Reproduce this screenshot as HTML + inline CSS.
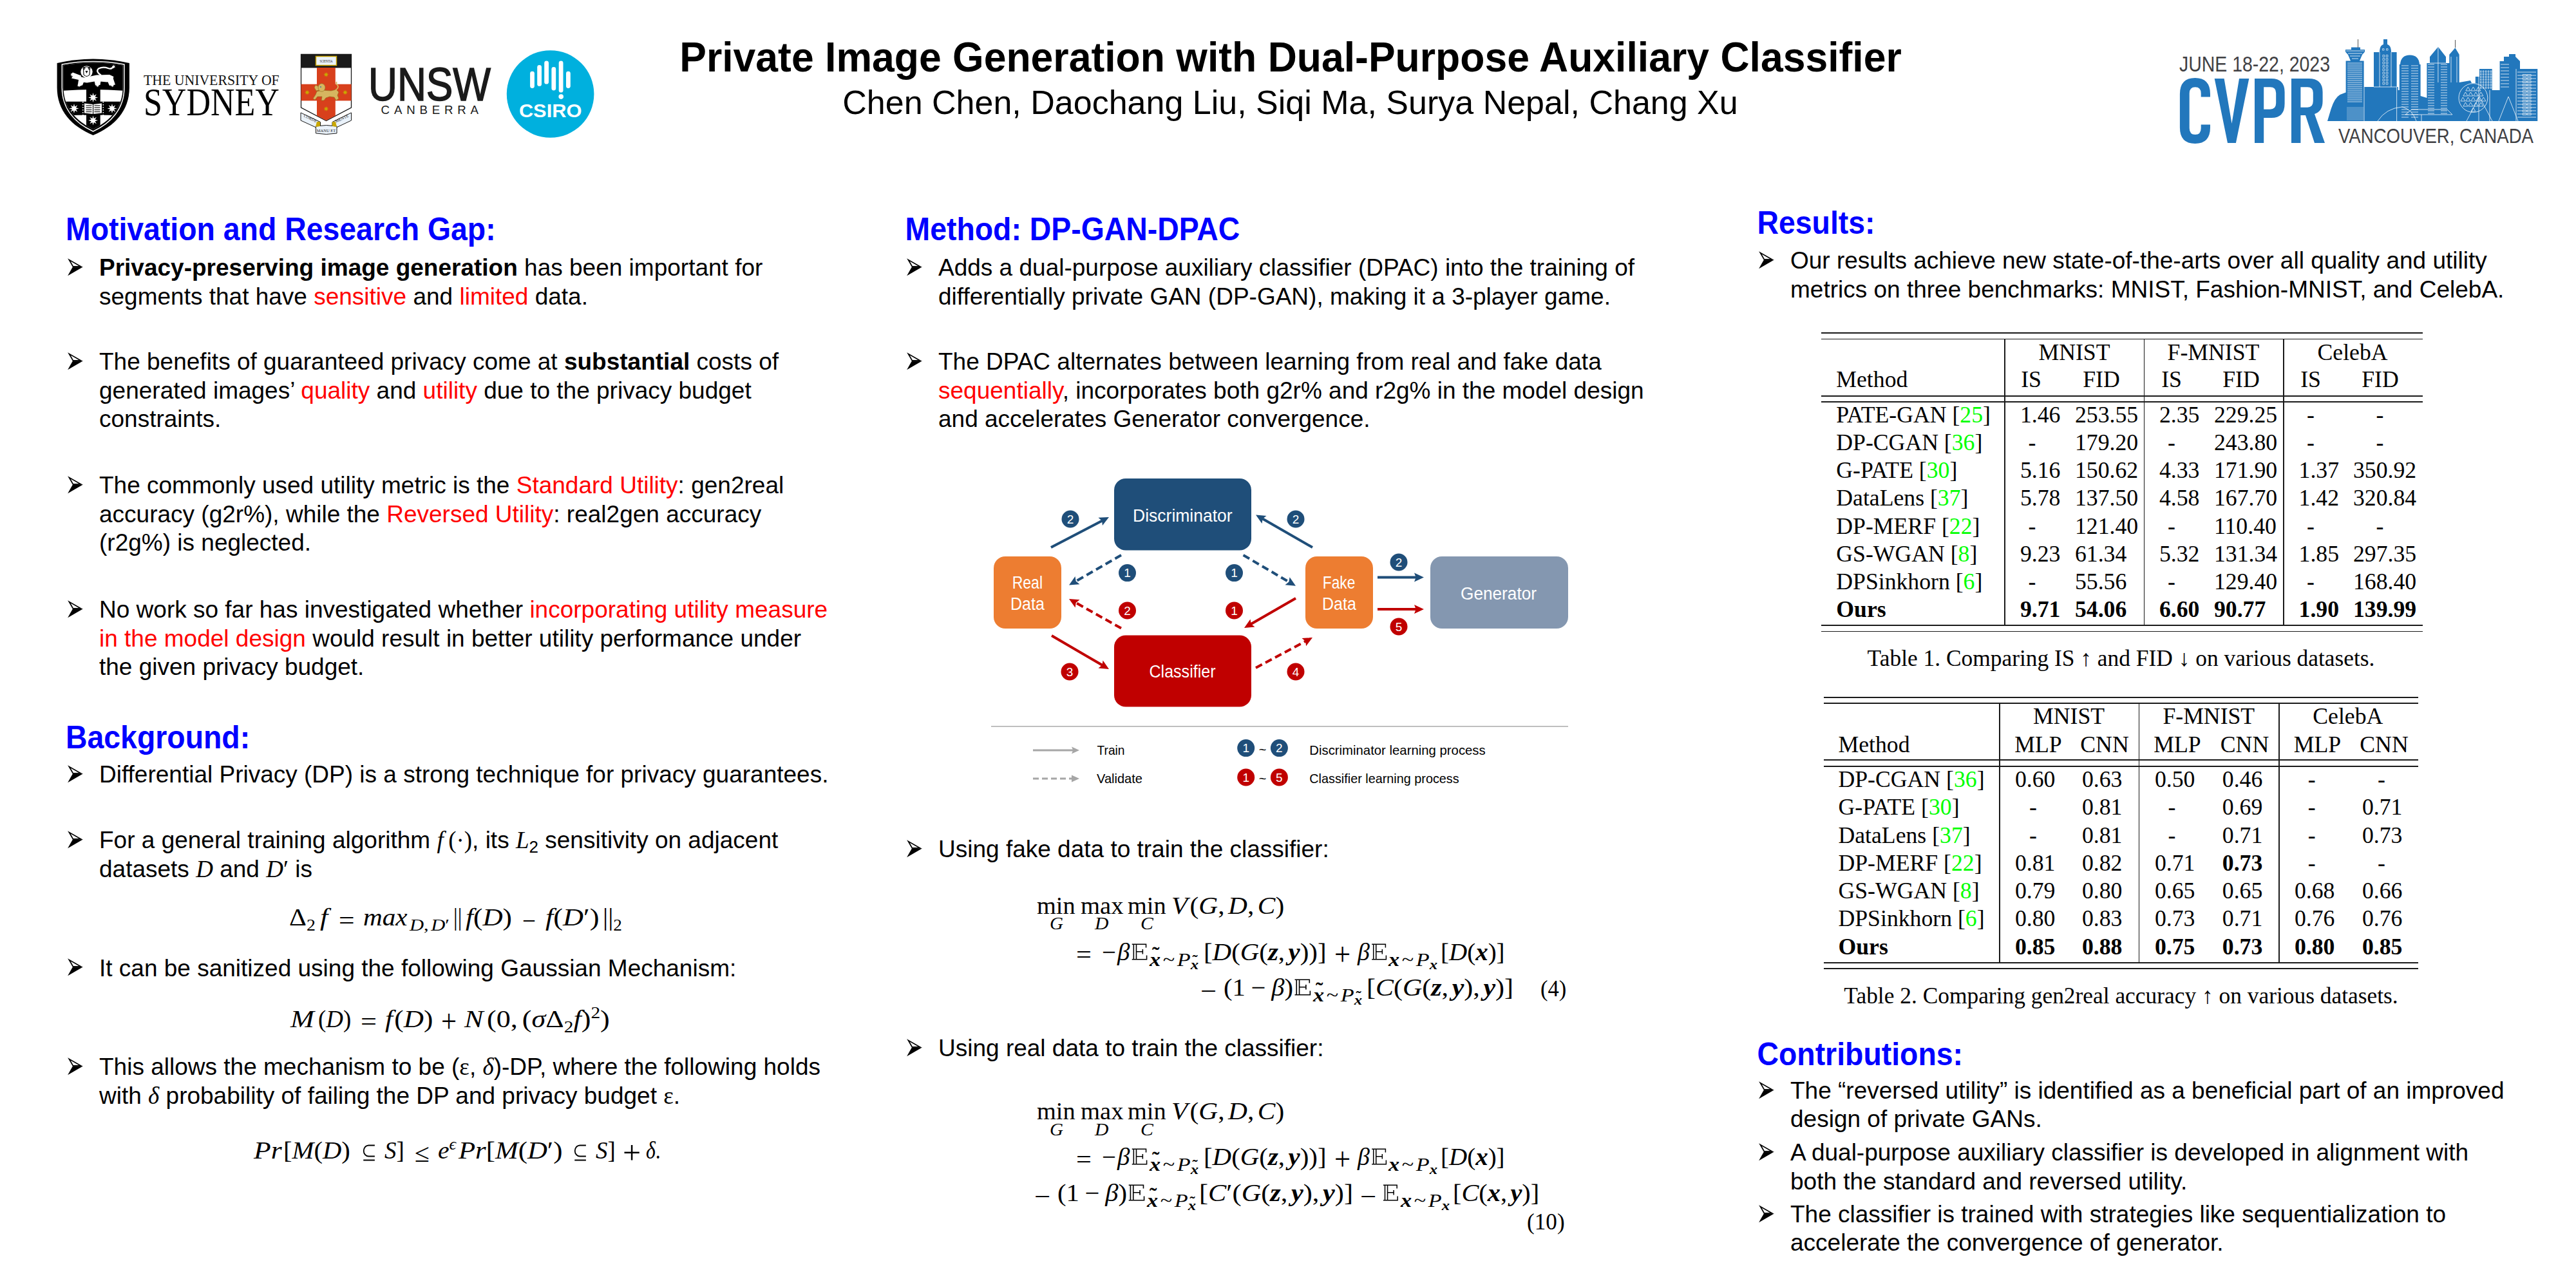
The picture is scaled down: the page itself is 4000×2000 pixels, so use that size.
<!DOCTYPE html>
<html><head><meta charset="utf-8">
<style>
html,body{margin:0;padding:0;background:#fff;}
body{width:4000px;height:2000px;position:relative;overflow:hidden;font-family:"Liberation Sans",sans-serif;color:#000;}
.t{position:absolute;white-space:nowrap;font-family:"Liberation Sans",sans-serif;color:#000;}
.t span,.t b{line-height:0;}
.h{position:absolute;white-space:nowrap;font-family:"Liberation Sans",sans-serif;font-weight:bold;color:#0000ff;}
.r{color:#ff0000;}
.mi{font-family:"Liberation Serif",serif;font-style:italic;}
.mr{font-family:"Liberation Serif",serif;}
.tb{position:absolute;white-space:nowrap;font-family:"Liberation Serif",serif;color:#000;font-size:35.7px;line-height:35.7px;}
.g{color:#00ff00;}
.hl{position:absolute;background:#1a1a1a;height:1.7px;}
.vl{position:absolute;background:#1a1a1a;width:1.7px;}
svg text{font-family:"Liberation Sans",sans-serif;}
</style></head><body>

<div class="t" style="left:0;width:4008px;text-align:center;top:58.09px;font-size:62.5px;line-height:62.5px;font-weight:bold;transform:scaleY(1.05);transform-origin:0 52.91px">Private Image Generation with Dual-Purpose Auxiliary Classifier</div>
<div class="t" style="left:0;width:4007px;text-align:center;top:132.98px;font-size:52px;line-height:52px">Chen Chen, Daochang Liu, Siqi Ma, Surya Nepal, Chang Xu</div>
<div class="h" style="left:102px;top:334.32px;font-size:46.4px;line-height:46.4px;transform:scaleY(1.06);transform-origin:0 39.28px">Motivation and Research Gap:</div>
<div style="position:absolute;left:104px;top:400.90px;width:26px;height:29px"><svg width="26" height="29" viewBox="-1 -1 26 29" style="display:block"><path d="M0.1,-0.7 L23.8,12.7 L7.9,12.7 Z M4.73,3.87 L17.34,11.00 L8.88,11.00 Z" fill="#000" fill-rule="evenodd"/><path d="M7.9,12.6 L23.8,12.6 L0.1,26.2 Z" fill="#000"/></svg></div>
<div class="t" style="left:154px;top:394.18px;font-size:37px;line-height:44.4px;"><b>Privacy-preserving image generation</b> has been important for</div>
<div class="t" style="left:154px;top:438.58px;font-size:37px;line-height:44.4px;">segments that have <span class="r">sensitive</span> and <span class="r">limited</span> data.</div>
<div style="position:absolute;left:104px;top:546.90px;width:26px;height:29px"><svg width="26" height="29" viewBox="-1 -1 26 29" style="display:block"><path d="M0.1,-0.7 L23.8,12.7 L7.9,12.7 Z M4.73,3.87 L17.34,11.00 L8.88,11.00 Z" fill="#000" fill-rule="evenodd"/><path d="M7.9,12.6 L23.8,12.6 L0.1,26.2 Z" fill="#000"/></svg></div>
<div class="t" style="left:154px;top:540.18px;font-size:37px;line-height:44.4px;">The benefits of guaranteed privacy come at <b>substantial</b> costs of</div>
<div class="t" style="left:154px;top:584.58px;font-size:37px;line-height:44.4px;">generated images’ <span class="r">quality</span> and <span class="r">utility</span> due to the privacy budget</div>
<div class="t" style="left:154px;top:628.98px;font-size:37px;line-height:44.4px;">constraints.</div>
<div style="position:absolute;left:104px;top:739.20px;width:26px;height:29px"><svg width="26" height="29" viewBox="-1 -1 26 29" style="display:block"><path d="M0.1,-0.7 L23.8,12.7 L7.9,12.7 Z M4.73,3.87 L17.34,11.00 L8.88,11.00 Z" fill="#000" fill-rule="evenodd"/><path d="M7.9,12.6 L23.8,12.6 L0.1,26.2 Z" fill="#000"/></svg></div>
<div class="t" style="left:154px;top:732.48px;font-size:37px;line-height:44.4px;">The commonly used utility metric is the <span class="r">Standard Utility</span>: gen2real</div>
<div class="t" style="left:154px;top:776.88px;font-size:37px;line-height:44.4px;">accuracy (g2r%), while the <span class="r">Reversed Utility</span>: real2gen accuracy</div>
<div class="t" style="left:154px;top:821.28px;font-size:37px;line-height:44.4px;">(r2g%) is neglected.</div>
<div style="position:absolute;left:104px;top:931.90px;width:26px;height:29px"><svg width="26" height="29" viewBox="-1 -1 26 29" style="display:block"><path d="M0.1,-0.7 L23.8,12.7 L7.9,12.7 Z M4.73,3.87 L17.34,11.00 L8.88,11.00 Z" fill="#000" fill-rule="evenodd"/><path d="M7.9,12.6 L23.8,12.6 L0.1,26.2 Z" fill="#000"/></svg></div>
<div class="t" style="left:154px;top:925.18px;font-size:37px;line-height:44.4px;">No work so far has investigated whether <span class="r">incorporating utility measure</span></div>
<div class="t" style="left:154px;top:969.58px;font-size:37px;line-height:44.4px;"><span class="r">in the model design</span> would result in better utility performance under</div>
<div class="t" style="left:154px;top:1013.98px;font-size:37px;line-height:44.4px;">the given privacy budget.</div>
<div class="h" style="left:102px;top:1122.72px;font-size:46.4px;line-height:46.4px;transform:scaleY(1.06);transform-origin:0 39.28px">Background:</div>
<div style="position:absolute;left:104px;top:1187.90px;width:26px;height:29px"><svg width="26" height="29" viewBox="-1 -1 26 29" style="display:block"><path d="M0.1,-0.7 L23.8,12.7 L7.9,12.7 Z M4.73,3.87 L17.34,11.00 L8.88,11.00 Z" fill="#000" fill-rule="evenodd"/><path d="M7.9,12.6 L23.8,12.6 L0.1,26.2 Z" fill="#000"/></svg></div>
<div class="t" style="left:154px;top:1181.18px;font-size:37px;line-height:44.4px;">Differential Privacy (DP) is a strong technique for privacy guarantees.</div>
<div style="position:absolute;left:104px;top:1289.90px;width:26px;height:29px"><svg width="26" height="29" viewBox="-1 -1 26 29" style="display:block"><path d="M0.1,-0.7 L23.8,12.7 L7.9,12.7 Z M4.73,3.87 L17.34,11.00 L8.88,11.00 Z" fill="#000" fill-rule="evenodd"/><path d="M7.9,12.6 L23.8,12.6 L0.1,26.2 Z" fill="#000"/></svg></div>
<div class="t" style="left:154px;top:1283.18px;font-size:37px;line-height:44.4px;">For a general training algorithm <span class="mi">f&#8201;</span><span class="mr">(·)</span>, its <span class="mi">L</span><span style="font-size:26px;position:relative;top:7px">2</span> sensitivity on adjacent</div>
<div class="t" style="left:154px;top:1327.58px;font-size:37px;line-height:44.4px;">datasets <span class="mi">D</span> and <span class="mi">D</span><span class="mr">′</span> is</div>
<div style="position:absolute;left:104px;top:1488.40px;width:26px;height:29px"><svg width="26" height="29" viewBox="-1 -1 26 29" style="display:block"><path d="M0.1,-0.7 L23.8,12.7 L7.9,12.7 Z M4.73,3.87 L17.34,11.00 L8.88,11.00 Z" fill="#000" fill-rule="evenodd"/><path d="M7.9,12.6 L23.8,12.6 L0.1,26.2 Z" fill="#000"/></svg></div>
<div class="t" style="left:154px;top:1481.68px;font-size:37px;line-height:44.4px;">It can be sanitized using the following Gaussian Mechanism:</div>
<div style="position:absolute;left:104px;top:1641.90px;width:26px;height:29px"><svg width="26" height="29" viewBox="-1 -1 26 29" style="display:block"><path d="M0.1,-0.7 L23.8,12.7 L7.9,12.7 Z M4.73,3.87 L17.34,11.00 L8.88,11.00 Z" fill="#000" fill-rule="evenodd"/><path d="M7.9,12.6 L23.8,12.6 L0.1,26.2 Z" fill="#000"/></svg></div>
<div class="t" style="left:154px;top:1635.18px;font-size:37px;line-height:44.4px;">This allows the mechanism to be (<span class="mr">ε</span>, <span class="mi">δ</span>)-DP, where the following holds</div>
<div class="t" style="left:154px;top:1679.58px;font-size:37px;line-height:44.4px;">with <span class="mi">δ</span> probability of failing the DP and privacy budget <span class="mr">ε</span>.</div>
<div class="h" style="left:1405.5px;top:334.32px;font-size:46.4px;line-height:46.4px;transform:scaleY(1.06);transform-origin:0 39.28px">Method: DP-GAN-DPAC</div>
<div style="position:absolute;left:1407px;top:400.90px;width:26px;height:29px"><svg width="26" height="29" viewBox="-1 -1 26 29" style="display:block"><path d="M0.1,-0.7 L23.8,12.7 L7.9,12.7 Z M4.73,3.87 L17.34,11.00 L8.88,11.00 Z" fill="#000" fill-rule="evenodd"/><path d="M7.9,12.6 L23.8,12.6 L0.1,26.2 Z" fill="#000"/></svg></div>
<div class="t" style="left:1457px;top:394.18px;font-size:37px;line-height:44.4px;">Adds a dual-purpose auxiliary classifier (DPAC) into the training of</div>
<div class="t" style="left:1457px;top:438.58px;font-size:37px;line-height:44.4px;">differentially private GAN (DP-GAN), making it a 3-player game.</div>
<div style="position:absolute;left:1407px;top:546.90px;width:26px;height:29px"><svg width="26" height="29" viewBox="-1 -1 26 29" style="display:block"><path d="M0.1,-0.7 L23.8,12.7 L7.9,12.7 Z M4.73,3.87 L17.34,11.00 L8.88,11.00 Z" fill="#000" fill-rule="evenodd"/><path d="M7.9,12.6 L23.8,12.6 L0.1,26.2 Z" fill="#000"/></svg></div>
<div class="t" style="left:1457px;top:540.18px;font-size:37px;line-height:44.4px;">The DPAC alternates between learning from real and fake data</div>
<div class="t" style="left:1457px;top:584.58px;font-size:37px;line-height:44.4px;"><span class="r">sequentially</span>, incorporates both g2r% and r2g% in the model design</div>
<div class="t" style="left:1457px;top:628.98px;font-size:37px;line-height:44.4px;">and accelerates Generator convergence.</div>
<div style="position:absolute;left:1407px;top:1303.90px;width:26px;height:29px"><svg width="26" height="29" viewBox="-1 -1 26 29" style="display:block"><path d="M0.1,-0.7 L23.8,12.7 L7.9,12.7 Z M4.73,3.87 L17.34,11.00 L8.88,11.00 Z" fill="#000" fill-rule="evenodd"/><path d="M7.9,12.6 L23.8,12.6 L0.1,26.2 Z" fill="#000"/></svg></div>
<div class="t" style="left:1457px;top:1297.18px;font-size:37px;line-height:44.4px;">Using fake data to train the classifier:</div>
<div style="position:absolute;left:1407px;top:1612.90px;width:26px;height:29px"><svg width="26" height="29" viewBox="-1 -1 26 29" style="display:block"><path d="M0.1,-0.7 L23.8,12.7 L7.9,12.7 Z M4.73,3.87 L17.34,11.00 L8.88,11.00 Z" fill="#000" fill-rule="evenodd"/><path d="M7.9,12.6 L23.8,12.6 L0.1,26.2 Z" fill="#000"/></svg></div>
<div class="t" style="left:1457px;top:1606.18px;font-size:37px;line-height:44.4px;">Using real data to train the classifier:</div>
<div class="h" style="left:2728.5px;top:324.32px;font-size:46.4px;line-height:46.4px;transform:scaleY(1.06);transform-origin:0 39.28px">Results:</div>
<div style="position:absolute;left:2730px;top:389.90px;width:26px;height:29px"><svg width="26" height="29" viewBox="-1 -1 26 29" style="display:block"><path d="M0.1,-0.7 L23.8,12.7 L7.9,12.7 Z M4.73,3.87 L17.34,11.00 L8.88,11.00 Z" fill="#000" fill-rule="evenodd"/><path d="M7.9,12.6 L23.8,12.6 L0.1,26.2 Z" fill="#000"/></svg></div>
<div class="t" style="left:2780px;top:383.18px;font-size:37px;line-height:44.4px;">Our results achieve new state-of-the-arts over all quality and utility</div>
<div class="t" style="left:2780px;top:427.58px;font-size:37px;line-height:44.4px;">metrics on three benchmarks: MNIST, Fashion-MNIST, and CelebA.</div>
<div class="h" style="left:2728.5px;top:1614.52px;font-size:46.4px;line-height:46.4px;transform:scaleY(1.06);transform-origin:0 39.28px">Contributions:</div>
<div style="position:absolute;left:2730px;top:1678.70px;width:26px;height:29px"><svg width="26" height="29" viewBox="-1 -1 26 29" style="display:block"><path d="M0.1,-0.7 L23.8,12.7 L7.9,12.7 Z M4.73,3.87 L17.34,11.00 L8.88,11.00 Z" fill="#000" fill-rule="evenodd"/><path d="M7.9,12.6 L23.8,12.6 L0.1,26.2 Z" fill="#000"/></svg></div>
<div class="t" style="left:2780px;top:1671.98px;font-size:37px;line-height:44.4px;">The “reversed utility” is identified as a beneficial part of an improved</div>
<div class="t" style="left:2780px;top:1716.38px;font-size:37px;line-height:44.4px;">design of private GANs.</div>
<div style="position:absolute;left:2730px;top:1774.90px;width:26px;height:29px"><svg width="26" height="29" viewBox="-1 -1 26 29" style="display:block"><path d="M0.1,-0.7 L23.8,12.7 L7.9,12.7 Z M4.73,3.87 L17.34,11.00 L8.88,11.00 Z" fill="#000" fill-rule="evenodd"/><path d="M7.9,12.6 L23.8,12.6 L0.1,26.2 Z" fill="#000"/></svg></div>
<div class="t" style="left:2780px;top:1768.18px;font-size:37px;line-height:44.4px;">A dual-purpose auxiliary classifier is developed in alignment with</div>
<div class="t" style="left:2780px;top:1812.58px;font-size:37px;line-height:44.4px;">both the standard and reversed utility.</div>
<div style="position:absolute;left:2730px;top:1870.50px;width:26px;height:29px"><svg width="26" height="29" viewBox="-1 -1 26 29" style="display:block"><path d="M0.1,-0.7 L23.8,12.7 L7.9,12.7 Z M4.73,3.87 L17.34,11.00 L8.88,11.00 Z" fill="#000" fill-rule="evenodd"/><path d="M7.9,12.6 L23.8,12.6 L0.1,26.2 Z" fill="#000"/></svg></div>
<div class="t" style="left:2780px;top:1863.78px;font-size:37px;line-height:44.4px;">The classifier is trained with strategies like sequentialization to</div>
<div class="t" style="left:2780px;top:1908.18px;font-size:37px;line-height:44.4px;">accelerate the convergence of generator.</div>
<div class="hl" style="left:2828px;width:934px;top:516.35px"></div>
<div class="hl" style="left:2828px;width:934px;top:525.65px"></div>
<div class="hl" style="left:2828px;width:934px;top:613.95px"></div>
<div class="hl" style="left:2828px;width:934px;top:623.35px"></div>
<div class="hl" style="left:2828px;width:934px;top:970.15px"></div>
<div class="hl" style="left:2828px;width:934px;top:979.55px"></div>
<div class="vl" style="left:3112.15px;top:526.5px;height:444.5px"></div>
<div class="vl" style="left:3328.75px;top:526.5px;height:444.5px"></div>
<div class="vl" style="left:3545.15px;top:526.5px;height:444.5px"></div>
<div class="tb" style="left:3071.0px;width:300px;text-align:center;top:530.30px;">MNIST</div>
<div class="tb" style="left:3287.0px;width:300px;text-align:center;top:530.30px;">F-MNIST</div>
<div class="tb" style="left:3503.0px;width:300px;text-align:center;top:530.30px;">CelebA</div>
<div class="tb" style="left:2851.3px;top:572.40px;">Method</div>
<div class="tb" style="left:3004.0px;width:300px;text-align:center;top:572.40px;">IS</div>
<div class="tb" style="left:3113.0px;width:300px;text-align:center;top:572.40px;">FID</div>
<div class="tb" style="left:3222.0px;width:300px;text-align:center;top:572.40px;">IS</div>
<div class="tb" style="left:3330.0px;width:300px;text-align:center;top:572.40px;">FID</div>
<div class="tb" style="left:3438.0px;width:300px;text-align:center;top:572.40px;">IS</div>
<div class="tb" style="left:3546.0px;width:300px;text-align:center;top:572.40px;">FID</div>
<div class="tb" style="left:2851.3px;top:626.90px;">PATE-GAN [<span class="g">25</span>]</div>
<div class="tb" style="left:3137.0px;top:626.90px;">1.46</div>
<div class="tb" style="left:3222.0px;top:626.90px;">253.55</div>
<div class="tb" style="left:3353.0px;top:626.90px;">2.35</div>
<div class="tb" style="left:3438.0px;top:626.90px;">229.25</div>
<div class="tb" style="left:3438.0px;width:300px;text-align:center;top:626.90px;">-</div>
<div class="tb" style="left:3545.5px;width:300px;text-align:center;top:626.90px;">-</div>
<div class="tb" style="left:2851.3px;top:670.30px;">DP-CGAN [<span class="g">36</span>]</div>
<div class="tb" style="left:3005.5px;width:300px;text-align:center;top:670.30px;">-</div>
<div class="tb" style="left:3222.0px;top:670.30px;">179.20</div>
<div class="tb" style="left:3222.0px;width:300px;text-align:center;top:670.30px;">-</div>
<div class="tb" style="left:3438.0px;top:670.30px;">243.80</div>
<div class="tb" style="left:3438.0px;width:300px;text-align:center;top:670.30px;">-</div>
<div class="tb" style="left:3545.5px;width:300px;text-align:center;top:670.30px;">-</div>
<div class="tb" style="left:2851.3px;top:713.20px;">G-PATE [<span class="g">30</span>]</div>
<div class="tb" style="left:3137.0px;top:713.20px;">5.16</div>
<div class="tb" style="left:3222.0px;top:713.20px;">150.62</div>
<div class="tb" style="left:3353.0px;top:713.20px;">4.33</div>
<div class="tb" style="left:3438.0px;top:713.20px;">171.90</div>
<div class="tb" style="left:3569.6px;top:713.20px;">1.37</div>
<div class="tb" style="left:3654.0px;top:713.20px;">350.92</div>
<div class="tb" style="left:2851.3px;top:756.40px;">DataLens [<span class="g">37</span>]</div>
<div class="tb" style="left:3137.0px;top:756.40px;">5.78</div>
<div class="tb" style="left:3222.0px;top:756.40px;">137.50</div>
<div class="tb" style="left:3353.0px;top:756.40px;">4.58</div>
<div class="tb" style="left:3438.0px;top:756.40px;">167.70</div>
<div class="tb" style="left:3569.6px;top:756.40px;">1.42</div>
<div class="tb" style="left:3654.0px;top:756.40px;">320.84</div>
<div class="tb" style="left:2851.3px;top:799.60px;">DP-MERF [<span class="g">22</span>]</div>
<div class="tb" style="left:3005.5px;width:300px;text-align:center;top:799.60px;">-</div>
<div class="tb" style="left:3222.0px;top:799.60px;">121.40</div>
<div class="tb" style="left:3222.0px;width:300px;text-align:center;top:799.60px;">-</div>
<div class="tb" style="left:3438.0px;top:799.60px;">110.40</div>
<div class="tb" style="left:3438.0px;width:300px;text-align:center;top:799.60px;">-</div>
<div class="tb" style="left:3545.5px;width:300px;text-align:center;top:799.60px;">-</div>
<div class="tb" style="left:2851.3px;top:842.80px;">GS-WGAN [<span class="g">8</span>]</div>
<div class="tb" style="left:3137.0px;top:842.80px;">9.23</div>
<div class="tb" style="left:3222.0px;top:842.80px;">61.34</div>
<div class="tb" style="left:3353.0px;top:842.80px;">5.32</div>
<div class="tb" style="left:3438.0px;top:842.80px;">131.34</div>
<div class="tb" style="left:3569.6px;top:842.80px;">1.85</div>
<div class="tb" style="left:3654.0px;top:842.80px;">297.35</div>
<div class="tb" style="left:2851.3px;top:886.00px;">DPSinkhorn [<span class="g">6</span>]</div>
<div class="tb" style="left:3005.5px;width:300px;text-align:center;top:886.00px;">-</div>
<div class="tb" style="left:3222.0px;top:886.00px;">55.56</div>
<div class="tb" style="left:3222.0px;width:300px;text-align:center;top:886.00px;">-</div>
<div class="tb" style="left:3438.0px;top:886.00px;">129.40</div>
<div class="tb" style="left:3438.0px;width:300px;text-align:center;top:886.00px;">-</div>
<div class="tb" style="left:3654.0px;top:886.00px;">168.40</div>
<div class="tb" style="left:2851.3px;top:929.20px;font-weight:bold;">Ours</div>
<div class="tb" style="left:3137.0px;top:929.20px;font-weight:bold;">9.71</div>
<div class="tb" style="left:3222.0px;top:929.20px;font-weight:bold;">54.06</div>
<div class="tb" style="left:3353.0px;top:929.20px;font-weight:bold;">6.60</div>
<div class="tb" style="left:3438.0px;top:929.20px;font-weight:bold;">90.77</div>
<div class="tb" style="left:3569.6px;top:929.20px;font-weight:bold;">1.90</div>
<div class="tb" style="left:3654.0px;top:929.20px;font-weight:bold;">139.99</div>
<div class="tb" style="left:2593.5px;width:1400px;text-align:center;top:1004.95px;font-size:35.4px">Table 1. Comparing IS ↑ and FID ↓ on various datasets.</div>
<div class="hl" style="left:2831.5px;width:923.5px;top:1082.15px"></div>
<div class="hl" style="left:2831.5px;width:923.5px;top:1091.45px"></div>
<div class="hl" style="left:2831.5px;width:923.5px;top:1179.45px"></div>
<div class="hl" style="left:2831.5px;width:923.5px;top:1189.15px"></div>
<div class="hl" style="left:2831.5px;width:923.5px;top:1494.15px"></div>
<div class="hl" style="left:2831.5px;width:923.5px;top:1503.15px"></div>
<div class="vl" style="left:3103.95px;top:1092.3px;height:402.70000000000005px"></div>
<div class="vl" style="left:3320.75px;top:1092.3px;height:402.70000000000005px"></div>
<div class="vl" style="left:3537.95px;top:1092.3px;height:402.70000000000005px"></div>
<div class="tb" style="left:3062.6px;width:300px;text-align:center;top:1095.00px;">MNIST</div>
<div class="tb" style="left:3279.8px;width:300px;text-align:center;top:1095.00px;">F-MNIST</div>
<div class="tb" style="left:3495.8px;width:300px;text-align:center;top:1095.00px;">CelebA</div>
<div class="tb" style="left:2854.5px;top:1138.60px;">Method</div>
<div class="tb" style="left:3015.0px;width:300px;text-align:center;top:1138.60px;">MLP</div>
<div class="tb" style="left:3118.0px;width:300px;text-align:center;top:1138.60px;">CNN</div>
<div class="tb" style="left:3231.0px;width:300px;text-align:center;top:1138.60px;">MLP</div>
<div class="tb" style="left:3335.5px;width:300px;text-align:center;top:1138.60px;">CNN</div>
<div class="tb" style="left:3448.5px;width:300px;text-align:center;top:1138.60px;">MLP</div>
<div class="tb" style="left:3552.0px;width:300px;text-align:center;top:1138.60px;">CNN</div>
<div class="tb" style="left:2854.5px;top:1193.10px;">DP-CGAN [<span class="g">36</span>]</div>
<div class="tb" style="left:3129.0px;top:1193.10px;">0.60</div>
<div class="tb" style="left:3233.0px;top:1193.10px;">0.63</div>
<div class="tb" style="left:3346.0px;top:1193.10px;">0.50</div>
<div class="tb" style="left:3450.8px;top:1193.10px;">0.46</div>
<div class="tb" style="left:3439.7px;width:300px;text-align:center;top:1193.10px;">-</div>
<div class="tb" style="left:3548.0px;width:300px;text-align:center;top:1193.10px;">-</div>
<div class="tb" style="left:2854.5px;top:1236.40px;">G-PATE [<span class="g">30</span>]</div>
<div class="tb" style="left:3007.0px;width:300px;text-align:center;top:1236.40px;">-</div>
<div class="tb" style="left:3233.0px;top:1236.40px;">0.81</div>
<div class="tb" style="left:3222.5px;width:300px;text-align:center;top:1236.40px;">-</div>
<div class="tb" style="left:3450.8px;top:1236.40px;">0.69</div>
<div class="tb" style="left:3439.7px;width:300px;text-align:center;top:1236.40px;">-</div>
<div class="tb" style="left:3668.0px;top:1236.40px;">0.71</div>
<div class="tb" style="left:2854.5px;top:1279.60px;">DataLens [<span class="g">37</span>]</div>
<div class="tb" style="left:3007.0px;width:300px;text-align:center;top:1279.60px;">-</div>
<div class="tb" style="left:3233.0px;top:1279.60px;">0.81</div>
<div class="tb" style="left:3222.5px;width:300px;text-align:center;top:1279.60px;">-</div>
<div class="tb" style="left:3450.8px;top:1279.60px;">0.71</div>
<div class="tb" style="left:3439.7px;width:300px;text-align:center;top:1279.60px;">-</div>
<div class="tb" style="left:3668.0px;top:1279.60px;">0.73</div>
<div class="tb" style="left:2854.5px;top:1322.80px;">DP-MERF [<span class="g">22</span>]</div>
<div class="tb" style="left:3129.0px;top:1322.80px;">0.81</div>
<div class="tb" style="left:3233.0px;top:1322.80px;">0.82</div>
<div class="tb" style="left:3346.0px;top:1322.80px;">0.71</div>
<div class="tb" style="left:3450.8px;top:1322.80px;font-weight:bold;">0.73</div>
<div class="tb" style="left:3439.7px;width:300px;text-align:center;top:1322.80px;">-</div>
<div class="tb" style="left:3548.0px;width:300px;text-align:center;top:1322.80px;">-</div>
<div class="tb" style="left:2854.5px;top:1366.10px;">GS-WGAN [<span class="g">8</span>]</div>
<div class="tb" style="left:3129.0px;top:1366.10px;">0.79</div>
<div class="tb" style="left:3233.0px;top:1366.10px;">0.80</div>
<div class="tb" style="left:3346.0px;top:1366.10px;">0.65</div>
<div class="tb" style="left:3450.8px;top:1366.10px;">0.65</div>
<div class="tb" style="left:3563.0px;top:1366.10px;">0.68</div>
<div class="tb" style="left:3668.0px;top:1366.10px;">0.66</div>
<div class="tb" style="left:2854.5px;top:1409.40px;">DPSinkhorn [<span class="g">6</span>]</div>
<div class="tb" style="left:3129.0px;top:1409.40px;">0.80</div>
<div class="tb" style="left:3233.0px;top:1409.40px;">0.83</div>
<div class="tb" style="left:3346.0px;top:1409.40px;">0.73</div>
<div class="tb" style="left:3450.8px;top:1409.40px;">0.71</div>
<div class="tb" style="left:3563.0px;top:1409.40px;">0.76</div>
<div class="tb" style="left:3668.0px;top:1409.40px;">0.76</div>
<div class="tb" style="left:2854.5px;top:1452.60px;font-weight:bold;">Ours</div>
<div class="tb" style="left:3129.0px;top:1452.60px;font-weight:bold;">0.85</div>
<div class="tb" style="left:3233.0px;top:1452.60px;font-weight:bold;">0.88</div>
<div class="tb" style="left:3346.0px;top:1452.60px;font-weight:bold;">0.75</div>
<div class="tb" style="left:3450.8px;top:1452.60px;font-weight:bold;">0.73</div>
<div class="tb" style="left:3563.0px;top:1452.60px;font-weight:bold;">0.80</div>
<div class="tb" style="left:3668.0px;top:1452.60px;font-weight:bold;">0.85</div>
<div class="tb" style="left:2593.5px;width:1400px;text-align:center;top:1529.15px;font-size:35.4px">Table 2. Comparing gen2real accuracy ↑ on various datasets.</div>
<svg style="position:absolute;left:1520px;top:720px" width="940" height="520" viewBox="1520 720 940 520">
<rect x="1730" y="743" width="213" height="111.5" rx="18" ry="18" fill="#1f4e79"/>
<rect x="1543" y="864" width="105" height="112" rx="18" ry="18" fill="#ed7d31"/>
<rect x="1730" y="986.5" width="213" height="111.0" rx="18" ry="18" fill="#c00000"/>
<rect x="2027" y="864" width="105" height="112" rx="18" ry="18" fill="#ed7d31"/>
<rect x="2221" y="864" width="214" height="112" rx="18" ry="18" fill="#8497b0"/>
<text x="1759" y="809.6" font-size="27" textLength="154.7" lengthAdjust="spacingAndGlyphs" fill="#fff" text-anchor="start">Discriminator</text>
<text x="1571.7" y="913.8" font-size="27" textLength="47.3" lengthAdjust="spacingAndGlyphs" fill="#fff" text-anchor="start">Real</text>
<text x="1569" y="947" font-size="27" textLength="52.8" lengthAdjust="spacingAndGlyphs" fill="#fff" text-anchor="start">Data</text>
<text x="1784.5" y="1052.3" font-size="27" textLength="103" lengthAdjust="spacingAndGlyphs" fill="#fff" text-anchor="start">Classifier</text>
<text x="2053.8" y="913.8" font-size="27" textLength="50.5" lengthAdjust="spacingAndGlyphs" fill="#fff" text-anchor="start">Fake</text>
<text x="2053" y="947" font-size="27" textLength="52.8" lengthAdjust="spacingAndGlyphs" fill="#fff" text-anchor="start">Data</text>
<text x="2268" y="930.8" font-size="27" textLength="118" lengthAdjust="spacingAndGlyphs" fill="#fff" text-anchor="start">Generator</text>
<line x1="1632.0" y1="850.0" x2="1711.6" y2="808.4" stroke="#1f4e79" stroke-width="4"/>
<polygon points="1722.0,803.0 1711.9,816.1 1711.1,808.7 1705.5,803.7" fill="#1f4e79"/>
<line x1="2038.0" y1="850.0" x2="1960.1" y2="805.3" stroke="#1f4e79" stroke-width="4"/>
<polygon points="1950.0,799.5 1966.5,800.9 1960.7,805.6 1959.5,813.0" fill="#1f4e79"/>
<line x1="1741.0" y1="862.0" x2="1670.1" y2="902.8" stroke="#1f4e79" stroke-width="4" stroke-dasharray="11 6"/>
<polygon points="1660.0,908.6 1669.5,895.1 1670.7,902.5 1676.5,907.2" fill="#1f4e79"/>
<line x1="1930.6" y1="862.0" x2="2001.9" y2="903.9" stroke="#1f4e79" stroke-width="4" stroke-dasharray="11 6"/>
<polygon points="2012.0,909.8 1995.5,908.2 2001.4,903.6 2002.6,896.2" fill="#1f4e79"/>
<line x1="1741.0" y1="975.6" x2="1670.2" y2="935.7" stroke="#c00000" stroke-width="4" stroke-dasharray="11 6"/>
<polygon points="1660.0,930.0 1676.5,931.3 1670.7,936.0 1669.6,943.5" fill="#c00000"/>
<line x1="2012.0" y1="929.0" x2="1942.1" y2="969.2" stroke="#c00000" stroke-width="4"/>
<polygon points="1932.0,975.0 1941.5,961.5 1942.7,968.9 1948.5,973.6" fill="#c00000"/>
<line x1="1633.0" y1="987.0" x2="1711.9" y2="1033.1" stroke="#c00000" stroke-width="4"/>
<polygon points="1722.0,1039.0 1705.5,1037.5 1711.4,1032.8 1712.6,1025.4" fill="#c00000"/>
<line x1="1950.0" y1="1037.0" x2="2027.7" y2="995.5" stroke="#c00000" stroke-width="4" stroke-dasharray="11 6"/>
<polygon points="2038.0,990.0 2028.1,1003.2 2027.2,995.8 2021.5,990.9" fill="#c00000"/>
<line x1="2139.0" y1="896.5" x2="2199.3" y2="896.5" stroke="#1f4e79" stroke-width="4"/>
<polygon points="2211.0,896.5 2196.0,903.5 2198.7,896.5 2196.0,889.5" fill="#1f4e79"/>
<line x1="2139.0" y1="946.0" x2="2199.3" y2="946.0" stroke="#c00000" stroke-width="4"/>
<polygon points="2211.0,946.0 2196.0,953.0 2198.7,946.0 2196.0,939.0" fill="#c00000"/>
<circle cx="1662" cy="806" r="13.5" fill="#1f4e79"/>
<text x="1662" y="812.8" font-size="19" fill="#fff" text-anchor="middle">2</text>
<circle cx="2012" cy="806" r="13.5" fill="#1f4e79"/>
<text x="2012" y="812.8" font-size="19" fill="#fff" text-anchor="middle">2</text>
<circle cx="1750.5" cy="889.6" r="13.5" fill="#1f4e79"/>
<text x="1750.5" y="896.4" font-size="19" fill="#fff" text-anchor="middle">1</text>
<circle cx="1916.5" cy="889.6" r="13.5" fill="#1f4e79"/>
<text x="1916.5" y="896.4" font-size="19" fill="#fff" text-anchor="middle">1</text>
<circle cx="1750.5" cy="948" r="13.5" fill="#c00000"/>
<text x="1750.5" y="954.8" font-size="19" fill="#fff" text-anchor="middle">2</text>
<circle cx="1916.5" cy="948" r="13.5" fill="#c00000"/>
<text x="1916.5" y="954.8" font-size="19" fill="#fff" text-anchor="middle">1</text>
<circle cx="1661" cy="1043" r="13.5" fill="#c00000"/>
<text x="1661" y="1049.8" font-size="19" fill="#fff" text-anchor="middle">3</text>
<circle cx="2012" cy="1043" r="13.5" fill="#c00000"/>
<text x="2012" y="1049.8" font-size="19" fill="#fff" text-anchor="middle">4</text>
<circle cx="2172" cy="873" r="13.5" fill="#1f4e79"/>
<text x="2172" y="879.8" font-size="19" fill="#fff" text-anchor="middle">2</text>
<circle cx="2172" cy="973" r="13.5" fill="#c00000"/>
<text x="2172" y="979.8" font-size="19" fill="#fff" text-anchor="middle">5</text>
<line x1="1539" y1="1128" x2="2435" y2="1128" stroke="#bfbfbf" stroke-width="2"/>
<line x1="1604.0" y1="1165.0" x2="1666.6" y2="1165.0" stroke="#a6a6a6" stroke-width="3"/>
<polygon points="1676.0,1165.0 1664.0,1170.5 1666.2,1165.0 1664.0,1159.5" fill="#a6a6a6"/>
<line x1="1604" y1="1209" x2="1665" y2="1209" stroke="#a6a6a6" stroke-width="3" stroke-dasharray="9 5"/>
<polygon points="1676,1209 1664,1203.5 1664,1214.5" fill="#a6a6a6"/>
<text x="1703.5" y="1171.7" font-size="21" textLength="43" lengthAdjust="spacingAndGlyphs" fill="#000" text-anchor="start">Train</text>
<text x="1703" y="1216.2" font-size="21" textLength="71" lengthAdjust="spacingAndGlyphs" fill="#000" text-anchor="start">Validate</text>
<circle cx="1934.7" cy="1161.6" r="13.5" fill="#1f4e79"/>
<text x="1934.7" y="1168.3999999999999" font-size="19" fill="#fff" text-anchor="middle">1</text>
<circle cx="1986.4" cy="1161.6" r="13.5" fill="#1f4e79"/>
<text x="1986.4" y="1168.3999999999999" font-size="19" fill="#fff" text-anchor="middle">2</text>
<circle cx="1934.7" cy="1207" r="13.5" fill="#c00000"/>
<text x="1934.7" y="1213.8" font-size="19" fill="#fff" text-anchor="middle">1</text>
<circle cx="1986.4" cy="1207" r="13.5" fill="#c00000"/>
<text x="1986.4" y="1213.8" font-size="19" fill="#fff" text-anchor="middle">5</text>
<text x="1960.6" y="1171" font-size="20" fill="#000" text-anchor="middle">~</text>
<text x="1960.6" y="1216" font-size="20" fill="#000" text-anchor="middle">~</text>
<text x="2033.3" y="1171.7" font-size="21" textLength="273.4" lengthAdjust="spacingAndGlyphs" fill="#000" text-anchor="start">Discriminator learning process</text>
<text x="2033.3" y="1216.2" font-size="21" textLength="232.4" lengthAdjust="spacingAndGlyphs" fill="#000" text-anchor="start">Classifier learning process</text>
</svg>
<style>.eqn span,.eqn i,.eqn b{line-height:0}</style>
<div class="eqn" style="position:absolute;left:448.8px;top:1406.09px;font-family:'Liberation Serif',serif;font-size:37.5px;line-height:37.5px;white-space:nowrap;transform:scaleX(1.1167);transform-origin:0 0">Δ<span style="font-size:25px;position:relative;top:8px">2</span></div>
<div class="eqn" style="position:absolute;left:497.4px;top:1406.09px;font-family:'Liberation Serif',serif;font-size:37.5px;line-height:37.5px;white-space:nowrap;transform:scaleX(1.1800);transform-origin:0 0"><i>f</i></div>
<div class="eqn" style="position:absolute;left:526.0px;top:1409.50px;font-family:'Liberation Serif',serif;font-size:40px;line-height:40px;white-space:nowrap;transform:scaleX(1.0903);transform-origin:0 0">=</div>
<div class="eqn" style="position:absolute;left:563.9px;top:1406.09px;font-family:'Liberation Serif',serif;font-size:37.5px;line-height:37.5px;white-space:nowrap;transform:scaleX(1.0979);transform-origin:0 0"><i>max</i></div>
<div class="eqn" style="position:absolute;left:635.8px;top:1423.72px;font-family:'Liberation Serif',serif;font-size:26px;line-height:26px;white-space:nowrap;transform:scaleX(1.1754);transform-origin:0 0"><i>D</i>,<span style="display:inline-block;width:3px"></span><i>D</i>′</div>
<div class="eqn" style="position:absolute;left:704.4px;top:1406.09px;font-family:'Liberation Serif',serif;font-size:37.5px;line-height:37.5px;white-space:nowrap;transform:scaleX(0.8857);transform-origin:0 0">||</div>
<div class="eqn" style="position:absolute;left:723.0px;top:1406.09px;font-family:'Liberation Serif',serif;font-size:37.5px;line-height:37.5px;white-space:nowrap;transform:scaleX(1.1517);transform-origin:0 0"><i>f</i>(<i>D</i>)</div>
<div class="eqn" style="position:absolute;left:810.6px;top:1409.50px;font-family:'Liberation Serif',serif;font-size:40px;line-height:40px;white-space:nowrap;transform:scaleX(0.9307);transform-origin:0 0">−</div>
<div class="eqn" style="position:absolute;left:846.8px;top:1406.09px;font-family:'Liberation Serif',serif;font-size:37.5px;line-height:37.5px;white-space:nowrap;transform:scaleX(1.1800);transform-origin:0 0"><i>f</i>(<i>D</i>′)</div>
<div class="eqn" style="position:absolute;left:935.6px;top:1406.09px;font-family:'Liberation Serif',serif;font-size:37.5px;line-height:37.5px;white-space:nowrap;transform:scaleX(1.0867);transform-origin:0 0">||<span style="font-size:25px;position:relative;top:8px">2</span></div>
<div class="eqn" style="position:absolute;left:450.9px;top:1563.89px;font-family:'Liberation Serif',serif;font-size:37.5px;line-height:37.5px;white-space:nowrap;transform:scaleX(1.1800);transform-origin:0 0"><i>M</i></div>
<div class="eqn" style="position:absolute;left:494.0px;top:1563.89px;font-family:'Liberation Serif',serif;font-size:37.5px;line-height:37.5px;white-space:nowrap;transform:scaleX(0.9848);transform-origin:0 0">(<i>D</i>)</div>
<div class="eqn" style="position:absolute;left:560.0px;top:1567.30px;font-family:'Liberation Serif',serif;font-size:40px;line-height:40px;white-space:nowrap;transform:scaleX(1.1080);transform-origin:0 0">=</div>
<div class="eqn" style="position:absolute;left:597.7px;top:1563.89px;font-family:'Liberation Serif',serif;font-size:37.5px;line-height:37.5px;white-space:nowrap;transform:scaleX(1.1517);transform-origin:0 0"><i>f</i><span style="display:inline-block;width:2px"></span>(<i>D</i>)</div>
<div class="eqn" style="position:absolute;left:684.7px;top:1561.42px;font-family:'Liberation Serif',serif;font-size:50px;line-height:50px;white-space:nowrap;transform:scaleX(0.8545);transform-origin:0 0">+</div>
<div class="eqn" style="position:absolute;left:720.8px;top:1563.89px;font-family:'Liberation Serif',serif;font-size:37.5px;line-height:37.5px;white-space:nowrap;transform:scaleX(1.1800);transform-origin:0 0"><i>N</i></div>
<div class="eqn" style="position:absolute;left:756.0px;top:1563.89px;font-family:'Liberation Serif',serif;font-size:37.5px;line-height:37.5px;white-space:nowrap;transform:scaleX(1.1765);transform-origin:0 0">(0,<span style="display:inline-block;width:6px"></span>(<i>σ</i>Δ<span style="font-size:25px;position:relative;top:8px">2</span><i>f</i>)<span style="font-size:25px;position:relative;top:-14px">2</span>)</div>
<div class="eqn" style="position:absolute;left:394.0px;top:1767.59px;font-family:'Liberation Serif',serif;font-size:37.5px;line-height:37.5px;white-space:nowrap;transform:scaleX(1.1627);transform-origin:0 0"><i>Pr</i></div>
<div class="eqn" style="position:absolute;left:440.2px;top:1767.59px;font-family:'Liberation Serif',serif;font-size:37.5px;line-height:37.5px;white-space:nowrap;transform:scaleX(1.0830);transform-origin:0 0">[<i>M</i>(<i>D</i>)</div>
<div class="eqn" style="position:absolute;left:562.0px;top:1767.59px;font-family:'Liberation Serif',serif;font-size:37.5px;line-height:37.5px;white-space:nowrap;transform:scaleX(0.9042);transform-origin:0 0"><svg width="24" height="30" viewBox="0 0 24 30" style="vertical-align:-6px"><path d="M22 3.5 H11.5 A8.5 8.5 0 0 0 11.5 20.5 H22 M2.5 26.5 H22" fill="none" stroke="#000" stroke-width="2"/></svg></div>
<div class="eqn" style="position:absolute;left:596.5px;top:1767.59px;font-family:'Liberation Serif',serif;font-size:37.5px;line-height:37.5px;white-space:nowrap;transform:scaleX(0.9824);transform-origin:0 0"><i>S</i>]</div>
<div class="eqn" style="position:absolute;left:643.9px;top:1771.00px;font-family:'Liberation Serif',serif;font-size:40px;line-height:40px;white-space:nowrap;transform:scaleX(1.0522);transform-origin:0 0">≤</div>
<div class="eqn" style="position:absolute;left:679.8px;top:1767.59px;font-family:'Liberation Serif',serif;font-size:37.5px;line-height:37.5px;white-space:nowrap;transform:scaleX(1.0548);transform-origin:0 0"><i>e</i><span style="font-size:25px;position:relative;top:-14px"><i>ϵ</i></span></div>
<div class="eqn" style="position:absolute;left:711.8px;top:1767.59px;font-family:'Liberation Serif',serif;font-size:37.5px;line-height:37.5px;white-space:nowrap;transform:scaleX(1.1403);transform-origin:0 0"><i>Pr</i>[<i>M</i>(<i>D</i>′)</div>
<div class="eqn" style="position:absolute;left:889.9px;top:1767.59px;font-family:'Liberation Serif',serif;font-size:37.5px;line-height:37.5px;white-space:nowrap;transform:scaleX(0.9042);transform-origin:0 0"><svg width="24" height="30" viewBox="0 0 24 30" style="vertical-align:-6px"><path d="M22 3.5 H11.5 A8.5 8.5 0 0 0 11.5 20.5 H22 M2.5 26.5 H22" fill="none" stroke="#000" stroke-width="2"/></svg></div>
<div class="eqn" style="position:absolute;left:924.5px;top:1767.59px;font-family:'Liberation Serif',serif;font-size:37.5px;line-height:37.5px;white-space:nowrap;transform:scaleX(0.9824);transform-origin:0 0"><i>S</i>]</div>
<div class="eqn" style="position:absolute;left:966.7px;top:1765.12px;font-family:'Liberation Serif',serif;font-size:50px;line-height:50px;white-space:nowrap;transform:scaleX(0.9999);transform-origin:0 0">+</div>
<div class="eqn" style="position:absolute;left:1003.4px;top:1767.59px;font-family:'Liberation Serif',serif;font-size:37.5px;line-height:37.5px;white-space:nowrap;transform:scaleX(0.8500);transform-origin:0 0"><i>δ</i>.</div>
<div class="eqn" style="position:absolute;left:1610.2px;top:1388.19px;font-family:'Liberation Serif',serif;font-size:37.5px;line-height:37.5px;white-space:nowrap;transform:scaleX(1.0232);transform-origin:0 0">min</div>
<div class="eqn" style="position:absolute;left:1677.6px;top:1388.19px;font-family:'Liberation Serif',serif;font-size:37.5px;line-height:37.5px;white-space:nowrap;transform:scaleX(1.0298);transform-origin:0 0">max</div>
<div class="eqn" style="position:absolute;left:1750.9px;top:1388.19px;font-family:'Liberation Serif',serif;font-size:37.5px;line-height:37.5px;white-space:nowrap;transform:scaleX(1.0232);transform-origin:0 0">min</div>
<div class="eqn" style="position:absolute;left:1818.8px;top:1388.19px;font-family:'Liberation Serif',serif;font-size:37.5px;line-height:37.5px;white-space:nowrap;transform:scaleX(1.1028);transform-origin:0 0"><i>V</i><span style="display:inline-block;width:3px"></span>(<i>G</i>,<span style="display:inline-block;width:5px"></span><i>D</i>,<span style="display:inline-block;width:5px"></span><i>C</i>)</div>
<div class="eqn" style="position:absolute;left:1630.0px;top:1421.41px;font-family:'Liberation Serif',serif;font-size:26.5px;line-height:26.5px;white-space:nowrap;transform:scaleX(1.0971);transform-origin:0 0"><i>G</i></div>
<div class="eqn" style="position:absolute;left:1700.4px;top:1421.41px;font-family:'Liberation Serif',serif;font-size:26.5px;line-height:26.5px;white-space:nowrap;transform:scaleX(1.1180);transform-origin:0 0"><i>D</i></div>
<div class="eqn" style="position:absolute;left:1771.3px;top:1421.41px;font-family:'Liberation Serif',serif;font-size:26.5px;line-height:26.5px;white-space:nowrap;transform:scaleX(1.1251);transform-origin:0 0"><i>C</i></div>
<div class="eqn" style="position:absolute;left:1670.6px;top:1463.30px;font-family:'Liberation Serif',serif;font-size:40px;line-height:40px;white-space:nowrap;transform:scaleX(1.0593);transform-origin:0 0">=</div>
<div class="eqn" style="position:absolute;left:1711.0px;top:1459.89px;font-family:'Liberation Serif',serif;font-size:37.5px;line-height:37.5px;white-space:nowrap;transform:scaleX(1.0386);transform-origin:0 0">−<span style="display:inline-block;width:2px"></span><i>β</i><span style="display:inline-block;width:2px"></span><svg width="25" height="26" viewBox="0 0 25 26" style="vertical-align:0;overflow:visible"><path d="M1 1.2 H22 V6.5 M1 24.8 H23 V18.5 M3.5 1.2 V24.8 M7.5 1.2 V24.8 M7.5 12.8 H17 M17 9 V16.5" fill="none" stroke="#000" stroke-width="1.5"/></svg></div>
<div class="eqn" style="position:absolute;left:1785.3px;top:1476.01px;font-family:'Liberation Serif',serif;font-size:29px;line-height:29px;white-space:nowrap;transform:scaleX(1.1800);transform-origin:0 0"><span style="position:relative;display:inline-block"><b><i>x</i></b><span style="position:absolute;left:0.12em;top:-0.32em;font-weight:bold">˜</span></span><span style="display:inline-block;width:3px"></span>~<span style="display:inline-block;width:3px"></span><i>P</i><span style="font-size:0.72em;position:relative;top:5px"><span style="position:relative;display:inline-block"><b><i>x</i></b><span style="position:absolute;left:0.12em;top:-0.32em;font-weight:bold">˜</span></span></span></div>
<div class="eqn" style="position:absolute;left:1868.5px;top:1459.89px;font-family:'Liberation Serif',serif;font-size:37.5px;line-height:37.5px;white-space:nowrap;transform:scaleX(1.0899);transform-origin:0 0">[<i>D</i>(<i>G</i>(<b><i>z</i></b>,<span style="display:inline-block;width:5px"></span><b><i>y</i></b>))]</div>
<div class="eqn" style="position:absolute;left:2071.8px;top:1457.42px;font-family:'Liberation Serif',serif;font-size:50px;line-height:50px;white-space:nowrap;transform:scaleX(0.8935);transform-origin:0 0">+</div>
<div class="eqn" style="position:absolute;left:2107.5px;top:1459.89px;font-family:'Liberation Serif',serif;font-size:37.5px;line-height:37.5px;white-space:nowrap;transform:scaleX(1.0090);transform-origin:0 0"><i>β</i><span style="display:inline-block;width:2px"></span><svg width="25" height="26" viewBox="0 0 25 26" style="vertical-align:0;overflow:visible"><path d="M1 1.2 H22 V6.5 M1 24.8 H23 V18.5 M3.5 1.2 V24.8 M7.5 1.2 V24.8 M7.5 12.8 H17 M17 9 V16.5" fill="none" stroke="#000" stroke-width="1.5"/></svg></div>
<div class="eqn" style="position:absolute;left:2156.4px;top:1476.01px;font-family:'Liberation Serif',serif;font-size:29px;line-height:29px;white-space:nowrap;transform:scaleX(1.1800);transform-origin:0 0"><b><i>x</i></b><span style="display:inline-block;width:3px"></span>~<span style="display:inline-block;width:3px"></span><i>P</i><span style="font-size:0.72em;position:relative;top:5px"><b><i>x</i></b></span></div>
<div class="eqn" style="position:absolute;left:2237.4px;top:1459.89px;font-family:'Liberation Serif',serif;font-size:37.5px;line-height:37.5px;white-space:nowrap;transform:scaleX(1.0394);transform-origin:0 0">[<i>D</i>(<b><i>x</i></b>)]</div>
<div class="eqn" style="position:absolute;left:1610.2px;top:1707.49px;font-family:'Liberation Serif',serif;font-size:37.5px;line-height:37.5px;white-space:nowrap;transform:scaleX(1.0232);transform-origin:0 0">min</div>
<div class="eqn" style="position:absolute;left:1677.6px;top:1707.49px;font-family:'Liberation Serif',serif;font-size:37.5px;line-height:37.5px;white-space:nowrap;transform:scaleX(1.0298);transform-origin:0 0">max</div>
<div class="eqn" style="position:absolute;left:1750.9px;top:1707.49px;font-family:'Liberation Serif',serif;font-size:37.5px;line-height:37.5px;white-space:nowrap;transform:scaleX(1.0232);transform-origin:0 0">min</div>
<div class="eqn" style="position:absolute;left:1818.8px;top:1707.49px;font-family:'Liberation Serif',serif;font-size:37.5px;line-height:37.5px;white-space:nowrap;transform:scaleX(1.1028);transform-origin:0 0"><i>V</i><span style="display:inline-block;width:3px"></span>(<i>G</i>,<span style="display:inline-block;width:5px"></span><i>D</i>,<span style="display:inline-block;width:5px"></span><i>C</i>)</div>
<div class="eqn" style="position:absolute;left:1630.0px;top:1740.61px;font-family:'Liberation Serif',serif;font-size:26.5px;line-height:26.5px;white-space:nowrap;transform:scaleX(1.0971);transform-origin:0 0"><i>G</i></div>
<div class="eqn" style="position:absolute;left:1700.4px;top:1740.61px;font-family:'Liberation Serif',serif;font-size:26.5px;line-height:26.5px;white-space:nowrap;transform:scaleX(1.1180);transform-origin:0 0"><i>D</i></div>
<div class="eqn" style="position:absolute;left:1771.3px;top:1740.61px;font-family:'Liberation Serif',serif;font-size:26.5px;line-height:26.5px;white-space:nowrap;transform:scaleX(1.1251);transform-origin:0 0"><i>C</i></div>
<div class="eqn" style="position:absolute;left:1670.6px;top:1781.30px;font-family:'Liberation Serif',serif;font-size:40px;line-height:40px;white-space:nowrap;transform:scaleX(1.0593);transform-origin:0 0">=</div>
<div class="eqn" style="position:absolute;left:1711.0px;top:1777.89px;font-family:'Liberation Serif',serif;font-size:37.5px;line-height:37.5px;white-space:nowrap;transform:scaleX(1.0386);transform-origin:0 0">−<span style="display:inline-block;width:2px"></span><i>β</i><span style="display:inline-block;width:2px"></span><svg width="25" height="26" viewBox="0 0 25 26" style="vertical-align:0;overflow:visible"><path d="M1 1.2 H22 V6.5 M1 24.8 H23 V18.5 M3.5 1.2 V24.8 M7.5 1.2 V24.8 M7.5 12.8 H17 M17 9 V16.5" fill="none" stroke="#000" stroke-width="1.5"/></svg></div>
<div class="eqn" style="position:absolute;left:1785.3px;top:1794.01px;font-family:'Liberation Serif',serif;font-size:29px;line-height:29px;white-space:nowrap;transform:scaleX(1.1800);transform-origin:0 0"><span style="position:relative;display:inline-block"><b><i>x</i></b><span style="position:absolute;left:0.12em;top:-0.32em;font-weight:bold">˜</span></span><span style="display:inline-block;width:3px"></span>~<span style="display:inline-block;width:3px"></span><i>P</i><span style="font-size:0.72em;position:relative;top:5px"><span style="position:relative;display:inline-block"><b><i>x</i></b><span style="position:absolute;left:0.12em;top:-0.32em;font-weight:bold">˜</span></span></span></div>
<div class="eqn" style="position:absolute;left:1868.5px;top:1777.89px;font-family:'Liberation Serif',serif;font-size:37.5px;line-height:37.5px;white-space:nowrap;transform:scaleX(1.0899);transform-origin:0 0">[<i>D</i>(<i>G</i>(<b><i>z</i></b>,<span style="display:inline-block;width:5px"></span><b><i>y</i></b>))]</div>
<div class="eqn" style="position:absolute;left:2071.8px;top:1775.42px;font-family:'Liberation Serif',serif;font-size:50px;line-height:50px;white-space:nowrap;transform:scaleX(0.8935);transform-origin:0 0">+</div>
<div class="eqn" style="position:absolute;left:2107.5px;top:1777.89px;font-family:'Liberation Serif',serif;font-size:37.5px;line-height:37.5px;white-space:nowrap;transform:scaleX(1.0090);transform-origin:0 0"><i>β</i><span style="display:inline-block;width:2px"></span><svg width="25" height="26" viewBox="0 0 25 26" style="vertical-align:0;overflow:visible"><path d="M1 1.2 H22 V6.5 M1 24.8 H23 V18.5 M3.5 1.2 V24.8 M7.5 1.2 V24.8 M7.5 12.8 H17 M17 9 V16.5" fill="none" stroke="#000" stroke-width="1.5"/></svg></div>
<div class="eqn" style="position:absolute;left:2156.4px;top:1794.01px;font-family:'Liberation Serif',serif;font-size:29px;line-height:29px;white-space:nowrap;transform:scaleX(1.1800);transform-origin:0 0"><b><i>x</i></b><span style="display:inline-block;width:3px"></span>~<span style="display:inline-block;width:3px"></span><i>P</i><span style="font-size:0.72em;position:relative;top:5px"><b><i>x</i></b></span></div>
<div class="eqn" style="position:absolute;left:2237.4px;top:1777.89px;font-family:'Liberation Serif',serif;font-size:37.5px;line-height:37.5px;white-space:nowrap;transform:scaleX(1.0394);transform-origin:0 0">[<i>D</i>(<b><i>x</i></b>)]</div>
<div class="eqn" style="position:absolute;left:1864.3px;top:1518.70px;font-family:'Liberation Serif',serif;font-size:40px;line-height:40px;white-space:nowrap;transform:scaleX(1.1125);transform-origin:0 0">−</div>
<div class="eqn" style="position:absolute;left:1899.9px;top:1515.29px;font-family:'Liberation Serif',serif;font-size:37.5px;line-height:37.5px;white-space:nowrap;transform:scaleX(1.0837);transform-origin:0 0">(1<span style="display:inline-block;width:8px"></span>−<span style="display:inline-block;width:8px"></span><i>β</i>)<span style="display:inline-block;width:1px"></span><svg width="25" height="26" viewBox="0 0 25 26" style="vertical-align:0;overflow:visible"><path d="M1 1.2 H22 V6.5 M1 24.8 H23 V18.5 M3.5 1.2 V24.8 M7.5 1.2 V24.8 M7.5 12.8 H17 M17 9 V16.5" fill="none" stroke="#000" stroke-width="1.5"/></svg></div>
<div class="eqn" style="position:absolute;left:2038.6px;top:1531.41px;font-family:'Liberation Serif',serif;font-size:29px;line-height:29px;white-space:nowrap;transform:scaleX(1.1800);transform-origin:0 0"><span style="position:relative;display:inline-block"><b><i>x</i></b><span style="position:absolute;left:0.12em;top:-0.32em;font-weight:bold">˜</span></span><span style="display:inline-block;width:3px"></span>~<span style="display:inline-block;width:3px"></span><i>P</i><span style="font-size:0.72em;position:relative;top:5px"><span style="position:relative;display:inline-block"><b><i>x</i></b><span style="position:absolute;left:0.12em;top:-0.32em;font-weight:bold">˜</span></span></span></div>
<div class="eqn" style="position:absolute;left:2122.0px;top:1515.29px;font-family:'Liberation Serif',serif;font-size:37.5px;line-height:37.5px;white-space:nowrap;transform:scaleX(1.1190);transform-origin:0 0">[<i>C</i>(<i>G</i>(<b><i>z</i></b>,<span style="display:inline-block;width:5px"></span><b><i>y</i></b>),<span style="display:inline-block;width:5px"></span><b><i>y</i></b>)]</div>
<div class="eqn" style="position:absolute;left:2391.7px;top:1517.89px;font-family:'Liberation Serif',serif;font-size:35px;line-height:35px;white-space:nowrap;transform:scaleX(0.9874);transform-origin:0 0">(4)</div>
<div class="eqn" style="position:absolute;left:1606.4px;top:1837.50px;font-family:'Liberation Serif',serif;font-size:40px;line-height:40px;white-space:nowrap;transform:scaleX(1.1169);transform-origin:0 0">−</div>
<div class="eqn" style="position:absolute;left:1642.0px;top:1834.09px;font-family:'Liberation Serif',serif;font-size:37.5px;line-height:37.5px;white-space:nowrap;transform:scaleX(1.0852);transform-origin:0 0">(1<span style="display:inline-block;width:8px"></span>−<span style="display:inline-block;width:8px"></span><i>β</i>)<span style="display:inline-block;width:1px"></span><svg width="25" height="26" viewBox="0 0 25 26" style="vertical-align:0;overflow:visible"><path d="M1 1.2 H22 V6.5 M1 24.8 H23 V18.5 M3.5 1.2 V24.8 M7.5 1.2 V24.8 M7.5 12.8 H17 M17 9 V16.5" fill="none" stroke="#000" stroke-width="1.5"/></svg></div>
<div class="eqn" style="position:absolute;left:1781.2px;top:1850.21px;font-family:'Liberation Serif',serif;font-size:29px;line-height:29px;white-space:nowrap;transform:scaleX(1.1800);transform-origin:0 0"><span style="position:relative;display:inline-block"><b><i>x</i></b><span style="position:absolute;left:0.12em;top:-0.32em;font-weight:bold">˜</span></span><span style="display:inline-block;width:3px"></span>~<span style="display:inline-block;width:3px"></span><i>P</i><span style="font-size:0.72em;position:relative;top:5px"><span style="position:relative;display:inline-block"><b><i>x</i></b><span style="position:absolute;left:0.12em;top:-0.32em;font-weight:bold">˜</span></span></span></div>
<div class="eqn" style="position:absolute;left:1862.0px;top:1834.09px;font-family:'Liberation Serif',serif;font-size:37.5px;line-height:37.5px;white-space:nowrap;transform:scaleX(1.1276);transform-origin:0 0">[<i>C</i>′(<i>G</i>(<b><i>z</i></b>,<span style="display:inline-block;width:5px"></span><b><i>y</i></b>),<span style="display:inline-block;width:5px"></span><b><i>y</i></b>)]</div>
<div class="eqn" style="position:absolute;left:2111.6px;top:1837.50px;font-family:'Liberation Serif',serif;font-size:40px;line-height:40px;white-space:nowrap;transform:scaleX(1.1169);transform-origin:0 0">−</div>
<div class="eqn" style="position:absolute;left:2147.3px;top:1834.09px;font-family:'Liberation Serif',serif;font-size:37.5px;line-height:37.5px;white-space:nowrap;transform:scaleX(1.0080);transform-origin:0 0"><svg width="25" height="26" viewBox="0 0 25 26" style="vertical-align:0;overflow:visible"><path d="M1 1.2 H22 V6.5 M1 24.8 H23 V18.5 M3.5 1.2 V24.8 M7.5 1.2 V24.8 M7.5 12.8 H17 M17 9 V16.5" fill="none" stroke="#000" stroke-width="1.5"/></svg></div>
<div class="eqn" style="position:absolute;left:2175.3px;top:1850.21px;font-family:'Liberation Serif',serif;font-size:29px;line-height:29px;white-space:nowrap;transform:scaleX(1.1800);transform-origin:0 0"><b><i>x</i></b><span style="display:inline-block;width:3px"></span>~<span style="display:inline-block;width:3px"></span><i>P</i><span style="font-size:0.72em;position:relative;top:5px"><b><i>x</i></b></span></div>
<div class="eqn" style="position:absolute;left:2256.3px;top:1834.09px;font-family:'Liberation Serif',serif;font-size:37.5px;line-height:37.5px;white-space:nowrap;transform:scaleX(1.0755);transform-origin:0 0">[<i>C</i>(<b><i>x</i></b>,<span style="display:inline-block;width:5px"></span><b><i>y</i></b>)]</div>
<div class="eqn" style="position:absolute;left:2371.0px;top:1879.69px;font-family:'Liberation Serif',serif;font-size:35px;line-height:35px;white-space:nowrap;transform:scaleX(1.0049);transform-origin:0 0">(10)</div>
<svg style="position:absolute;left:80px;top:80px" width="370" height="140" viewBox="80 80 370 140">
<defs><clipPath id="fld"><path d="M98.6,101.5 Q144.6,93.5 190.6,101.5 L190.6,136 C190.6,167 171,188 144.6,200.5 C118,188 98.6,167 98.6,136 Z"/></clipPath></defs>
<path d="M88.6,98 Q144.6,85 200.9,98 L200.9,136 C200.9,172 178,196 144.6,210 C111,196 88.6,172 88.6,136 Z" fill="#000"/>
<path d="M96.3,100 Q144.6,91.2 192.9,100 L192.9,136 C192.9,169 172.5,191 144.6,204 C116.5,191 96.3,169 96.3,136 Z" fill="none" stroke="#fff" stroke-width="1.5"/>
<g clip-path="url(#fld)">
<rect x="90" y="90" width="110" height="120" fill="#fff"/>
<path d="M90,90 H200 V141.5 Q144.6,136.5 90,141.5 Z" fill="#000"/>
<path d="M90,157.7 H200 V180 Q144.6,177 90,180 Z" fill="#000"/>
<rect x="134" y="139" width="21.7" height="70" fill="#000"/>
</g>
<g fill="#fff">
<path d="M117,117.5 L131,120.5 L150,116.5 L170,116 L176.5,119 L174.5,125.5 L166,127.5 L150,126 L135,128.5 L127,127.5 Z"/>
<path d="M126,117.5 L113,112.5 L110.5,115.5 L113,118 L111,121.5 L124.5,124.5 Z"/>
<polygon points="112.50,112.40 113.19,114.56 115.31,113.76 114.06,115.64 116.01,116.80 113.75,117.00 114.06,119.24 112.50,117.60 110.94,119.24 111.25,117.00 108.99,116.80 110.94,115.64 109.69,113.76 111.81,114.56" fill="#fff"/>
<path d="M122,124 L131,125 L128,132.5 L120.5,134 Z"/>
<polygon points="123.00,129.50 123.70,131.29 125.60,131.00 124.40,132.50 125.60,134.00 123.70,133.71 123.00,135.50 122.30,133.71 120.40,134.00 121.60,132.50 120.40,131.00 122.30,131.29" fill="#fff"/>
<path d="M146,123 L157,123 L155.5,132 L148,132.5 Z"/>
<polygon points="151.50,129.50 152.20,131.29 154.10,131.00 152.90,132.50 154.10,134.00 152.20,133.71 151.50,135.50 150.80,133.71 148.90,134.00 150.10,132.50 148.90,131.00 150.80,131.29" fill="#fff"/>
<path d="M165,122 L175.5,121 L179,131.5 L170,133 Z"/>
<polygon points="174.50,129.50 175.20,131.29 177.10,131.00 175.90,132.50 177.10,134.00 175.20,133.71 174.50,135.50 173.80,133.71 171.90,134.00 173.10,132.50 171.90,131.00 173.80,131.29" fill="#fff"/>
<circle cx="134.5" cy="111.5" r="9.2"/>
</g>
<path d="M157,117 Q148,111 153,106.5 Q160,103 168,106 Q173,108 176,103.5" fill="none" stroke="#fff" stroke-width="2.3"/>
<polygon points="176.50,100.50 177.15,102.37 179.10,102.00 177.80,103.50 179.10,105.00 177.15,104.63 176.50,106.50 175.85,104.63 173.90,105.00 175.20,103.50 173.90,102.00 175.85,102.37" fill="#fff"/>
<g fill="none" stroke="#000" stroke-width="1.1"><path d="M129.5,105.5 Q134.5,102 139.5,105.5 L139,116 Q134.5,121 130,116 Z"/><circle cx="130.5" cy="106" r="1.4"/><circle cx="138.5" cy="106" r="1.4"/></g>
<path d="M132.5,110 L136.5,110 L134.5,114 Z" fill="#000"/>
<polygon points="144.60,144.00 145.82,148.54 149.90,146.20 147.56,150.28 152.10,151.50 147.56,152.72 149.90,156.80 145.82,154.46 144.60,159.00 143.38,154.46 139.30,156.80 141.64,152.72 137.10,151.50 141.64,150.28 139.30,146.20 143.38,148.54" fill="#fff"/>
<polygon points="115.00,161.00 116.22,165.54 120.30,163.20 117.96,167.28 122.50,168.50 117.96,169.72 120.30,173.80 116.22,171.46 115.00,176.00 113.78,171.46 109.70,173.80 112.04,169.72 107.50,168.50 112.04,167.28 109.70,163.20 113.78,165.54" fill="#fff"/>
<polygon points="174.00,161.00 175.22,165.54 179.30,163.20 176.96,167.28 181.50,168.50 176.96,169.72 179.30,173.80 175.22,171.46 174.00,176.00 172.78,171.46 168.70,173.80 171.04,169.72 166.50,168.50 171.04,167.28 168.70,163.20 172.78,165.54" fill="#fff"/>
<polygon points="144.60,179.50 145.82,184.04 149.90,181.70 147.56,185.78 152.10,187.00 147.56,188.22 149.90,192.30 145.82,189.96 144.60,194.50 143.38,189.96 139.30,192.30 141.64,188.22 137.10,187.00 141.64,185.78 139.30,181.70 143.38,184.04" fill="#fff"/>
<path d="M131,160.5 L144.6,162 L158,160.5 L158,175.5 L144.6,177 L131,175.5 Z" fill="#fff"/>
<g stroke="#000" stroke-width="1.1">
<line x1="133.5" y1="164" x2="142.5" y2="164"/><line x1="146.5" y1="164" x2="155.5" y2="164"/>
<line x1="133.5" y1="167.3" x2="142.5" y2="167.3"/><line x1="146.5" y1="167.3" x2="155.5" y2="167.3"/>
<line x1="133.5" y1="170.6" x2="142.5" y2="170.6"/><line x1="146.5" y1="170.6" x2="155.5" y2="170.6"/>
<line x1="133.5" y1="173.6" x2="142.5" y2="173.6"/><line x1="146.5" y1="173.6" x2="155.5" y2="173.6"/>
<line x1="144.6" y1="161" x2="144.6" y2="177"/></g>
<rect x="128" y="158" width="1.6" height="1.6" fill="#fff"/><rect x="159.5" y="158" width="1.6" height="1.6" fill="#fff"/>
<rect x="128" y="162" width="1.6" height="1.6" fill="#fff"/><rect x="159.5" y="162" width="1.6" height="1.6" fill="#fff"/>
<rect x="128" y="166" width="1.6" height="1.6" fill="#fff"/><rect x="159.5" y="166" width="1.6" height="1.6" fill="#fff"/>
<rect x="128" y="170" width="1.6" height="1.6" fill="#fff"/><rect x="159.5" y="170" width="1.6" height="1.6" fill="#fff"/>
<rect x="128" y="174" width="1.6" height="1.6" fill="#fff"/><rect x="159.5" y="174" width="1.6" height="1.6" fill="#fff"/>
<rect x="128" y="178" width="1.6" height="1.6" fill="#fff"/><rect x="159.5" y="178" width="1.6" height="1.6" fill="#fff"/>
<text x="223" y="131.6" style="font-family:Liberation Serif" font-size="24" textLength="210.7" lengthAdjust="spacingAndGlyphs" fill="#111">THE UNIVERSITY OF</text>
<text x="222.9" y="179.1" style="font-family:Liberation Serif" font-size="61" textLength="211" lengthAdjust="spacingAndGlyphs" fill="#000">SYDNEY</text>
</svg>
<svg style="position:absolute;left:455px;top:75px" width="320" height="140" viewBox="455 75 320 140">
<defs><clipPath id="ush"><path d="M467.5,105 L545.5,105 L545.5,167 L506.5,187 L467.5,167 Z"/></clipPath></defs>
<path d="M467.5,84.5 L545.5,84.5 L545.5,167 L506.5,187.5 L467.5,167 Z" fill="#fff" stroke="#1a1a1a" stroke-width="1.3"/>
<rect x="467" y="84" width="79" height="21.4" fill="#1a1a1a"/>
<g clip-path="url(#ush)"><rect x="492" y="105" width="28.8" height="90" fill="#d8401c"/><rect x="467" y="130.7" width="79" height="25.7" fill="#d8401c"/></g>
<polygon points="506.40,111.80 507.09,114.14 509.23,112.97 508.06,115.11 510.40,115.80 508.06,116.49 509.23,118.63 507.09,117.46 506.40,119.80 505.71,117.46 503.57,118.63 504.74,116.49 502.40,115.80 504.74,115.11 503.57,112.97 505.71,114.14" fill="#c9a800"/>
<polygon points="477.00,139.50 477.69,141.84 479.83,140.67 478.66,142.81 481.00,143.50 478.66,144.19 479.83,146.33 477.69,145.16 477.00,147.50 476.31,145.16 474.17,146.33 475.34,144.19 473.00,143.50 475.34,142.81 474.17,140.67 476.31,141.84" fill="#c9a800"/>
<polygon points="536.00,139.50 536.69,141.84 538.83,140.67 537.66,142.81 540.00,143.50 537.66,144.19 538.83,146.33 536.69,145.16 536.00,147.50 535.31,145.16 533.17,146.33 534.34,144.19 532.00,143.50 534.34,142.81 533.17,140.67 535.31,141.84" fill="#c9a800"/>
<polygon points="506.40,165.00 507.09,167.34 509.23,166.17 508.06,168.31 510.40,169.00 508.06,169.69 509.23,171.83 507.09,170.66 506.40,173.00 505.71,170.66 503.57,171.83 504.74,169.69 502.40,169.00 504.74,168.31 503.57,166.17 505.71,167.34" fill="#c9a800"/>
<g fill="#d6b660" stroke="#8a6d1c" stroke-width="0.6">
<path d="M492,142 L500,140 L514,141 L522,139 L526,143 L524,148 L526,153 L522,156 L519,151 L512,150 L506,152 L503,156 L499,156 L500,150 L493,150 L489,155 L486,153 L490,147 Z"/>
<path d="M491,141 L488,136 L490,132 L494,134 L496,140 Z"/>
<ellipse cx="499.5" cy="136" rx="5.5" ry="6.2"/>
<path d="M521,140 Q527,136 524,132 Q521,130 523,127" fill="none" stroke-width="1.8" stroke="#d6b660"/>
</g>
<circle cx="498" cy="135" r="0.9" fill="#2a6fb0"/>
<rect x="490.5" y="87.5" width="32" height="14" fill="#eaf2fa" stroke="#c8a400" stroke-width="1.5"/>
<text x="506.5" y="96.8" font-size="6" text-anchor="middle" style="font-family:Liberation Serif" textLength="20" lengthAdjust="spacingAndGlyphs" fill="#222">SCIENTIA</text>
<path d="M467,175 L497.5,189.5 L497.5,201 L467,187 Z" fill="#eaf2fa" stroke="#1a1a1a" stroke-width="1"/>
<path d="M516,189.5 L545.5,175 L545.5,187 L516,201 Z" fill="#eaf2fa" stroke="#1a1a1a" stroke-width="1"/>
<path d="M490.5,196 Q506.5,193 523,196 L523,207 Q506.5,210 490.5,207 Z" fill="#eaf2fa" stroke="#1a1a1a" stroke-width="1"/>
<text x="482" y="186" font-size="6.5" text-anchor="middle" transform="rotate(26 482 184)" style="font-family:Liberation Serif" fill="#222">CORDE</text>
<text x="531" y="186" font-size="6.5" text-anchor="middle" transform="rotate(-26 531 184)" style="font-family:Liberation Serif" fill="#222">MENTE</text>
<text x="506.5" y="204.5" font-size="6.5" text-anchor="middle" style="font-family:Liberation Serif" fill="#222">MANU ET</text>
<path d="M492,189 L497,189 L497,196 L490,197 Z" fill="#c9a800"/><path d="M516,189 L521,189 L523,197 L516,196 Z" fill="#c9a800"/>
<text x="572" y="156" font-size="72.2" textLength="190" lengthAdjust="spacingAndGlyphs" fill="#1a1a1a" stroke="#1a1a1a" stroke-width="1.6">UNSW</text>
<text x="591.6" y="176.9" font-size="18.7" textLength="151.4" lengthAdjust="spacing" fill="#1a1a1a">CANBERRA</text>
</svg>
<svg style="position:absolute;left:780px;top:70px" width="150" height="150" viewBox="780 70 150 150">
<circle cx="854.6" cy="146" r="67.8" fill="#00b0de"/>
<line x1="826.5" y1="114.2" x2="826.5" y2="133.6" stroke="#fff" stroke-width="6.8" stroke-linecap="round"/>
<line x1="837.6" y1="104.30000000000001" x2="837.6" y2="130.4" stroke="#fff" stroke-width="6.8" stroke-linecap="round"/>
<line x1="848.6" y1="97.9" x2="848.6" y2="127.19999999999999" stroke="#fff" stroke-width="6.8" stroke-linecap="round"/>
<line x1="859.8" y1="107.4" x2="859.8" y2="137.1" stroke="#fff" stroke-width="6.8" stroke-linecap="round"/>
<line x1="871.1" y1="97.9" x2="871.1" y2="140.2" stroke="#fff" stroke-width="6.8" stroke-linecap="round"/>
<line x1="882.4" y1="114.2" x2="882.4" y2="133.6" stroke="#fff" stroke-width="6.8" stroke-linecap="round"/>
<circle cx="871.2" cy="150.1" r="3.8" fill="#fff"/>
<text x="805.9" y="182.4" font-size="29" font-weight="bold" textLength="97.5" lengthAdjust="spacingAndGlyphs" fill="#fff">CSIRO</text>
</svg>
<svg style="position:absolute;left:3360px;top:40px" width="600" height="200" viewBox="3360 40 600 200">
<text x="3384" y="111.4" font-size="33.8" textLength="234" lengthAdjust="spacingAndGlyphs" fill="#404043">JUNE 18-22, 2023</text>
<text x="3631" y="222" font-size="30.5" textLength="303" lengthAdjust="spacingAndGlyphs" fill="#404043">VANCOUVER, CANADA</text>
<path d="M3432,150.6 L3417.7,150.6 L3417.7,145 Q3417.7,135.3 3408.7,135.3 Q3399.7,135.3 3399.7,145 L3399.7,199 Q3399.7,209 3408.7,209 Q3417.7,209 3417.7,199 L3417.7,193.5 L3432,193.5 L3432,198 Q3432,223 3408.5,223 Q3384.9,223 3384.9,198 L3384.9,146 Q3384.9,121 3408.5,121 Q3432,121 3432,146 Z" fill="#2277bc"/>
<path d="M3438.7,122 L3453.6,122 L3465.5,191.8 L3477,122 L3492.3,122 L3471.9,222 L3459,222 Z" fill="#2277bc"/>
<path d="M3501,122 L3527,122 Q3547.6,122 3547.6,143 L3547.6,161 Q3547.6,183 3527,183 L3515.2,183 L3515.2,222 L3501,222 Z M3515.2,135.3 L3515.2,169.7 L3525,169.7 Q3534.2,169.7 3534.2,160 L3534.2,144.5 Q3534.2,135.3 3525,135.3 Z" fill="#2277bc" fill-rule="evenodd"/>
<path d="M3558,122 L3585,122 Q3606.6,122 3606.6,143 L3606.6,157 Q3606.6,173 3594,177 L3610,222 L3594,222 L3580,179 L3572.4,179 L3572.4,222 L3558,222 Z M3572.4,135.3 L3572.4,166.7 L3583,166.7 Q3591.8,166.7 3591.8,157 L3591.8,144 Q3591.8,135.3 3583,135.3 Z" fill="#2277bc" fill-rule="evenodd"/>
<path d="M3614,188 L3619.6,169.3 Q3625,152 3633.5,147 L3642.6,143.4 L3642.6,94.5 L3650,94.5 L3646,85 L3642,80.5 L3642,77 L3651,77 L3651,73.5 L3665,73.5 L3665,77 L3672,77 L3672,80.5 L3668,85 L3664,94.5 L3670.6,94.5 L3670.6,135 L3686,135 L3686,81 L3695,81 Q3695,68.6 3704,68.6 Q3713,68.6 3713,81 L3721.6,81 L3721.6,135 L3723.7,135 L3723.7,140 L3725.8,140 L3725.8,100 L3727,100 Q3728,85.4 3742,85.4 Q3756,85.4 3757,100 L3758.6,100 L3758.6,149 L3768.4,152 L3768.4,98 L3773,98 L3773,88.2 L3785.9,72.8 L3798,88.2 L3798,98 L3803.3,98 L3803.3,84.7 L3812.4,74.2 L3818.7,84.7 L3818.7,128 L3836,125 L3838,129 L3843.8,129 L3843.8,119 L3850,119 L3850,107 L3869.7,107 L3869.7,140 L3881.6,140 L3881.6,95 L3888,95 L3888,88 L3896,88 L3896,84 L3906,84 L3906,88 L3913,95 L3913,107 L3940.3,107 L3940.3,188 Z" fill="#2277bc"/>
<circle cx="3840.4" cy="152" r="22.4" fill="#2277bc" stroke="#fff" stroke-width="0.8"/>
<rect x="3661" y="61" width="1" height="13" fill="#555"/><rect x="3812" y="62" width="1" height="12" fill="#555"/>
<rect x="3701" y="61" width="6" height="8" fill="#2277bc"/>
<path d="M3645,98 H3668 M3645,101 H3668 M3645,104 H3668 M3645,107 H3668 M3645,110 H3668 M3645,113 H3668 M3645,116 H3668 M3645,119 H3668 M3645,122 H3668 M3645,125 H3668 M3645,128 H3668 M3645,131 H3668 M3645,134 H3668 M3645,137 H3668 M3645,140 H3668 M3645,143 H3668 M3645,146 H3668 M3645,149 H3668 M3645,152 H3668 M3645,155 H3668 M3645,158 H3668 M3729,102 H3740 M3744,102 H3755 M3729,106 H3740 M3744,106 H3755 M3729,110 H3740 M3744,110 H3755 M3729,114 H3740 M3744,114 H3755 M3729,118 H3740 M3744,118 H3755 M3729,122 H3740 M3744,122 H3755 M3729,126 H3740 M3744,126 H3755 M3729,130 H3740 M3744,130 H3755 M3729,134 H3740 M3744,134 H3755 M3729,138 H3740 M3744,138 H3755 M3729,142 H3740 M3744,142 H3755 M3729,146 H3740 M3744,146 H3755 M3729,150 H3740 M3744,150 H3755 M3729,154 H3740 M3744,154 H3755 M3729,158 H3740 M3744,158 H3755 M3729,162 H3740 M3744,162 H3755 M3729,166 H3740 M3744,166 H3755 M3729,170 H3740 M3744,170 H3755 M3729,174 H3740 M3744,174 H3755 M3729,178 H3740 M3744,178 H3755 M3729,182 H3740 M3744,182 H3755 M3770,100 H3780 M3790,100 H3800 M3770,104 H3780 M3790,104 H3800 M3770,108 H3780 M3790,108 H3800 M3770,112 H3780 M3790,112 H3800 M3770,116 H3780 M3790,116 H3800 M3770,120 H3780 M3790,120 H3800 M3770,124 H3780 M3790,124 H3800 M3770,128 H3780 M3790,128 H3800 M3770,132 H3780 M3790,132 H3800 M3770,136 H3780 M3790,136 H3800 M3770,140 H3780 M3790,140 H3800 M3770,144 H3780 M3790,144 H3800 M3770,148 H3780 M3790,148 H3800 M3770,152 H3780 M3790,152 H3800 M3770,156 H3780 M3790,156 H3800 M3770,160 H3780 M3790,160 H3800 M3770,164 H3780 M3790,164 H3800 M3770,168 H3780 M3790,168 H3800 M3770,172 H3780 M3790,172 H3800 M3770,176 H3780 M3790,176 H3800 M3909,112 H3938 M3909,117 H3938 M3909,122 H3938 M3909,127 H3938 M3909,132 H3938 M3909,137 H3938 M3909,142 H3938 M3909,147 H3938 M3909,152 H3938 M3909,157 H3938 M3909,162 H3938 M3909,167 H3938 M3909,172 H3938 M3909,177 H3938 M3909,182 H3938 M3883,100 H3896 M3883,105 H3896 M3883,110 H3896 M3883,115 H3896 M3883,120 H3896 M3883,125 H3896 M3883,130 H3896 M3883,135 H3896 M3671,135 V188 M3721.6,135 V188 M3686,135 H3721.6 M3695,81 V135 M3713,81 V135 M3785.9,72.8 V128 M3773,98 H3798 M3806,88 V128 M3815,88 V128 M3907,107 V188 M3849,119 V188 M3866,140 V188 M3692,188 Q3705,168 3730,166 Q3746,170 3752,188 M3745,170 H3800 L3808,178 H3735 Z M3760,188 V178 M3830,188 L3850,150 L3870,188 M3880,188 L3895,150 L3910,188" stroke="#fff" stroke-width="0.9" fill="none" opacity="0.85"/>
<path d="M3699.9,85.4 h2.8 v3.2 h-2.8 Z M3705.1,85.4 h2.8 v3.2 h-2.8 Z M3699.9,90.7 h2.8 v3.2 h-2.8 Z M3705.1,90.7 h2.8 v3.2 h-2.8 Z M3699.9,96.0 h2.8 v3.2 h-2.8 Z M3705.1,96.0 h2.8 v3.2 h-2.8 Z M3699.9,101.3 h2.8 v3.2 h-2.8 Z M3705.1,101.3 h2.8 v3.2 h-2.8 Z M3699.9,106.7 h2.8 v3.2 h-2.8 Z M3705.1,106.7 h2.8 v3.2 h-2.8 Z M3699.9,112.0 h2.8 v3.2 h-2.8 Z M3705.1,112.0 h2.8 v3.2 h-2.8 Z M3699.9,117.3 h2.8 v3.2 h-2.8 Z M3705.1,117.3 h2.8 v3.2 h-2.8 Z M3699.9,122.6 h2.8 v3.2 h-2.8 Z M3705.1,122.6 h2.8 v3.2 h-2.8 Z M3699.9,127.9 h2.8 v3.2 h-2.8 Z M3705.1,127.9 h2.8 v3.2 h-2.8 Z M3699.5,75.6 h2.5 v2.5 h-2.5 Z M3705.5,75.6 h2.5 v2.5 h-2.5 Z M3851.5,109.9 h1.6 v2.4 h-1.6 Z M3855.4,109.9 h1.6 v2.4 h-1.6 Z M3859.4,109.9 h1.6 v2.4 h-1.6 Z M3863.3,109.9 h1.6 v2.4 h-1.6 Z M3867.2,109.9 h1.6 v2.4 h-1.6 Z M3851.5,114.1 h1.6 v2.4 h-1.6 Z M3855.4,114.1 h1.6 v2.4 h-1.6 Z M3859.4,114.1 h1.6 v2.4 h-1.6 Z M3863.3,114.1 h1.6 v2.4 h-1.6 Z M3867.2,114.1 h1.6 v2.4 h-1.6 Z M3851.5,118.3 h1.6 v2.4 h-1.6 Z M3855.4,118.3 h1.6 v2.4 h-1.6 Z M3859.4,118.3 h1.6 v2.4 h-1.6 Z M3863.3,118.3 h1.6 v2.4 h-1.6 Z M3867.2,118.3 h1.6 v2.4 h-1.6 Z M3851.5,122.4 h1.6 v2.4 h-1.6 Z M3855.4,122.4 h1.6 v2.4 h-1.6 Z M3859.4,122.4 h1.6 v2.4 h-1.6 Z M3863.3,122.4 h1.6 v2.4 h-1.6 Z M3867.2,122.4 h1.6 v2.4 h-1.6 Z M3851.5,126.6 h1.6 v2.4 h-1.6 Z M3855.4,126.6 h1.6 v2.4 h-1.6 Z M3859.4,126.6 h1.6 v2.4 h-1.6 Z M3863.3,126.6 h1.6 v2.4 h-1.6 Z M3867.2,126.6 h1.6 v2.4 h-1.6 Z M3851.5,130.8 h1.6 v2.4 h-1.6 Z M3855.4,130.8 h1.6 v2.4 h-1.6 Z M3859.4,130.8 h1.6 v2.4 h-1.6 Z M3863.3,130.8 h1.6 v2.4 h-1.6 Z M3867.2,130.8 h1.6 v2.4 h-1.6 Z M3851.5,135.0 h1.6 v2.4 h-1.6 Z M3855.4,135.0 h1.6 v2.4 h-1.6 Z M3859.4,135.0 h1.6 v2.4 h-1.6 Z M3863.3,135.0 h1.6 v2.4 h-1.6 Z M3867.2,135.0 h1.6 v2.4 h-1.6 Z M3917.2,115.5 h6 v3 h-6 Z M3924.2,115.5 h6 v3 h-6 Z M3917.2,120.5 h6 v3 h-6 Z M3924.2,120.5 h6 v3 h-6 Z M3917.2,125.5 h6 v3 h-6 Z M3924.2,125.5 h6 v3 h-6 Z M3917.2,130.6 h6 v3 h-6 Z M3924.2,130.6 h6 v3 h-6 Z M3917.2,135.6 h6 v3 h-6 Z M3924.2,135.6 h6 v3 h-6 Z M3917.2,140.6 h6 v3 h-6 Z M3924.2,140.6 h6 v3 h-6 Z M3917.2,145.6 h6 v3 h-6 Z M3924.2,145.6 h6 v3 h-6 Z M3917.2,150.7 h6 v3 h-6 Z M3924.2,150.7 h6 v3 h-6 Z M3917.2,155.7 h6 v3 h-6 Z M3924.2,155.7 h6 v3 h-6 Z M3917.2,160.7 h6 v3 h-6 Z M3924.2,160.7 h6 v3 h-6 Z M3917.2,165.8 h6 v3 h-6 Z M3924.2,165.8 h6 v3 h-6 Z M3917.2,170.8 h6 v3 h-6 Z M3924.2,170.8 h6 v3 h-6 Z M3917.2,175.8 h6 v3 h-6 Z M3924.2,175.8 h6 v3 h-6 Z" fill="none" stroke="#fff" stroke-width="0.7" opacity="0.9"/>
<path d="M3828.9,141.0 L3832.4,135.0 L3835.9,141.0 Z M3836.9,141.0 L3840.4,135.0 L3843.9,141.0 Z M3844.9,141.0 L3848.4,135.0 L3851.9,141.0 Z M3824.9,149.0 L3828.4,143.0 L3831.9,149.0 Z M3832.9,149.0 L3836.4,143.0 L3839.9,149.0 Z M3840.9,149.0 L3844.4,143.0 L3847.9,149.0 Z M3848.9,149.0 L3852.4,143.0 L3855.9,149.0 Z M3820.9,157.0 L3824.4,151.0 L3827.9,157.0 Z M3828.9,157.0 L3832.4,151.0 L3835.9,157.0 Z M3836.9,157.0 L3840.4,151.0 L3843.9,157.0 Z M3844.9,157.0 L3848.4,151.0 L3851.9,157.0 Z M3852.9,157.0 L3856.4,151.0 L3859.9,157.0 Z M3824.9,165.0 L3828.4,159.0 L3831.9,165.0 Z M3832.9,165.0 L3836.4,159.0 L3839.9,165.0 Z M3840.9,165.0 L3844.4,159.0 L3847.9,165.0 Z M3848.9,165.0 L3852.4,159.0 L3855.9,165.0 Z M3836.9,173.0 L3840.4,167.0 L3843.9,173.0 Z" fill="none" stroke="#fff" stroke-width="0.7"/>
<path d="M3643,79 H3671 M3646,83 H3668 M3649,87 H3665 M3652,91 H3662" stroke="#fff" stroke-width="0.8"/>
<line x1="3645" y1="166" x2="3645" y2="187" stroke="#fff" stroke-width="0.5" opacity="0.8"/>
<line x1="3647" y1="166" x2="3647" y2="187" stroke="#fff" stroke-width="0.5" opacity="0.8"/>
<line x1="3649" y1="166" x2="3649" y2="187" stroke="#fff" stroke-width="0.5" opacity="0.8"/>
<line x1="3651" y1="166" x2="3651" y2="187" stroke="#fff" stroke-width="0.5" opacity="0.8"/>
<line x1="3653" y1="166" x2="3653" y2="187" stroke="#fff" stroke-width="0.5" opacity="0.8"/>
<line x1="3655" y1="166" x2="3655" y2="187" stroke="#fff" stroke-width="0.5" opacity="0.8"/>
<line x1="3657" y1="166" x2="3657" y2="187" stroke="#fff" stroke-width="0.5" opacity="0.8"/>
<line x1="3659" y1="166" x2="3659" y2="187" stroke="#fff" stroke-width="0.5" opacity="0.8"/>
<line x1="3661" y1="166" x2="3661" y2="187" stroke="#fff" stroke-width="0.5" opacity="0.8"/>
<line x1="3663" y1="166" x2="3663" y2="187" stroke="#fff" stroke-width="0.5" opacity="0.8"/>
<line x1="3665" y1="166" x2="3665" y2="187" stroke="#fff" stroke-width="0.5" opacity="0.8"/>
<line x1="3667" y1="166" x2="3667" y2="187" stroke="#fff" stroke-width="0.5" opacity="0.8"/>
<line x1="3669" y1="166" x2="3669" y2="187" stroke="#fff" stroke-width="0.5" opacity="0.8"/>
</svg>
</body></html>
